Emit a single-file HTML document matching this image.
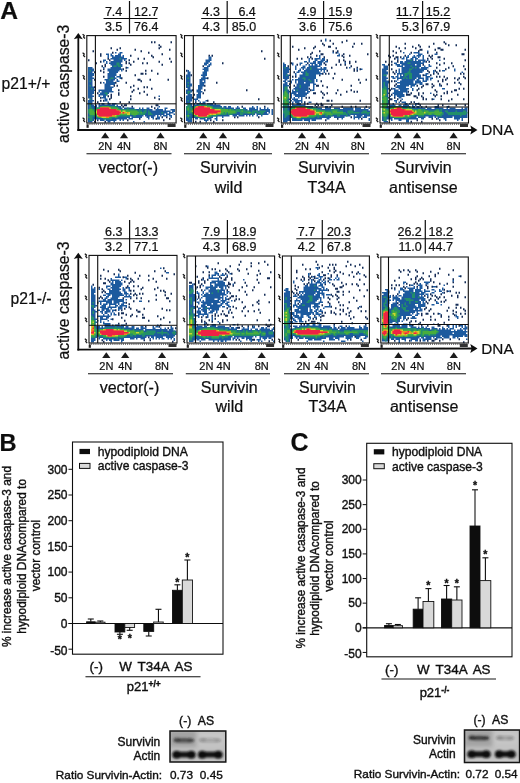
<!DOCTYPE html>
<html><head><meta charset="utf-8"><title>Figure</title>
<style>
html,body{margin:0;padding:0;background:#fff;}
svg{display:block;}
text{font-family:"Liberation Sans",Arial,sans-serif;fill:#111;}
.b{font-weight:bold;}
.h text{stroke:#111;stroke-width:0.38px;}
.l text{stroke:#111;stroke-width:0.22px;}
</style></head><body>
<svg width="520" height="783" viewBox="0 0 520 783">
<defs>
<filter id="soft" x="-5%" y="-5%" width="110%" height="110%"><feGaussianBlur stdDeviation="0.45"/></filter>
<filter id="txt" x="-5%" y="-5%" width="110%" height="110%"><feGaussianBlur stdDeviation="0.3"/></filter>
<filter id="blot" x="-20%" y="-50%" width="140%" height="200%"><feGaussianBlur stdDeviation="1.0"/></filter>
<filter id="blot2" x="-20%" y="-50%" width="140%" height="200%"><feGaussianBlur stdDeviation="2.2"/></filter>
</defs>
<rect x="0" y="0" width="520" height="783" fill="#ffffff"/>

<g filter="url(#txt)" class="l">
<text x="0.2" y="19.2" font-size="24.6" text-anchor="start" class="b">A</text>
<text x="-0.6" y="450.5" font-size="23.6" text-anchor="start" class="b">B</text>
<text x="290.4" y="451.2" font-size="25" text-anchor="start" class="b">C</text>
<text x="1.5" y="88.9" font-size="15.7" text-anchor="start">p21+/+</text>
<text transform="translate(68.8,83.8) rotate(-90)" font-size="15.75" text-anchor="middle">active caspase-3</text>
<line x1="78.3" y1="37.3" x2="78.3" y2="130.9" stroke="#111" stroke-width="1.8"/>
<polygon points="78.3,33.0 73.8,39.3 78.3,38.099999999999994 82.8,39.3" fill="#111"/>
<line x1="77.4" y1="130" x2="472" y2="130.0" stroke="#111" stroke-width="1.8"/>
<polygon points="477.5,130.0 470.3,125.6 471.6,130.0 470.3,134.4" fill="#111"/>
<text x="481.3" y="135.1" font-size="15.3" text-anchor="start" stroke="#111" stroke-width="0.35">DNA</text>
<text x="122.3" y="15.8" font-size="12.5" text-anchor="end">7.4</text>
<text x="134.1" y="15.8" font-size="12.5" text-anchor="start">12.7</text>
<text x="122.3" y="31.3" font-size="12.5" text-anchor="end">3.5</text>
<text x="134.1" y="31.3" font-size="12.5" text-anchor="start">76.4</text>
<line x1="129.5" y1="1" x2="129.5" y2="33.5" stroke="#111" stroke-width="1.2"/>
<line x1="103.5" y1="18.5" x2="157.5" y2="18.5" stroke="#111" stroke-width="1.1"/>
<polygon points="105.2,132.4 101.10000000000001,138.20000000000002 109.3,138.20000000000002" fill="#1a1a1a"/>
<text x="105.2" y="149.6" font-size="11" text-anchor="middle" stroke="#111" stroke-width="0.3">2N</text>
<polygon points="124,132.4 119.9,138.20000000000002 128.1,138.20000000000002" fill="#1a1a1a"/>
<text x="124" y="149.6" font-size="11" text-anchor="middle" stroke="#111" stroke-width="0.3">4N</text>
<polygon points="160.5,132.4 156.4,138.20000000000002 164.6,138.20000000000002" fill="#1a1a1a"/>
<text x="160.5" y="149.6" font-size="11" text-anchor="middle" stroke="#111" stroke-width="0.3">8N</text>
<text x="128.2" y="172.8" font-size="16" text-anchor="middle">vector(-)</text>
<line x1="86.5" y1="153.7" x2="171.5" y2="153.7" stroke="#111" stroke-width="1.1"/>
<text x="220.0" y="15.8" font-size="12.5" text-anchor="end">4.3</text>
<text x="255.79999999999998" y="15.8" font-size="12.5" text-anchor="end">6.4</text>
<text x="220.0" y="31.3" font-size="12.5" text-anchor="end">4.3</text>
<text x="231.79999999999998" y="31.3" font-size="12.5" text-anchor="start">85.0</text>
<line x1="227.2" y1="1" x2="227.2" y2="33.5" stroke="#111" stroke-width="1.2"/>
<line x1="201.2" y1="18.5" x2="255.2" y2="18.5" stroke="#111" stroke-width="1.1"/>
<polygon points="203.3,132.4 199.20000000000002,138.20000000000002 207.4,138.20000000000002" fill="#1a1a1a"/>
<text x="203.3" y="149.6" font-size="11" text-anchor="middle" stroke="#111" stroke-width="0.3">2N</text>
<polygon points="223,132.4 218.9,138.20000000000002 227.1,138.20000000000002" fill="#1a1a1a"/>
<text x="223" y="149.6" font-size="11" text-anchor="middle" stroke="#111" stroke-width="0.3">4N</text>
<polygon points="259,132.4 254.9,138.20000000000002 263.1,138.20000000000002" fill="#1a1a1a"/>
<text x="259" y="149.6" font-size="11" text-anchor="middle" stroke="#111" stroke-width="0.3">8N</text>
<text x="228.5" y="172.8" font-size="16" text-anchor="middle">Survivin</text>
<text x="228.5" y="192.5" font-size="16" text-anchor="middle">wild</text>
<line x1="184" y1="153.7" x2="272" y2="153.7" stroke="#111" stroke-width="1.1"/>
<text x="316.40000000000003" y="15.8" font-size="12.5" text-anchor="end">4.9</text>
<text x="328.20000000000005" y="15.8" font-size="12.5" text-anchor="start">15.9</text>
<text x="316.40000000000003" y="31.3" font-size="12.5" text-anchor="end">3.6</text>
<text x="328.20000000000005" y="31.3" font-size="12.5" text-anchor="start">75.6</text>
<line x1="323.6" y1="1" x2="323.6" y2="33.5" stroke="#111" stroke-width="1.2"/>
<line x1="297.6" y1="18.5" x2="351.6" y2="18.5" stroke="#111" stroke-width="1.1"/>
<polygon points="302,132.4 297.9,138.20000000000002 306.1,138.20000000000002" fill="#1a1a1a"/>
<text x="302" y="149.6" font-size="11" text-anchor="middle" stroke="#111" stroke-width="0.3">2N</text>
<polygon points="322.3,132.4 318.2,138.20000000000002 326.40000000000003,138.20000000000002" fill="#1a1a1a"/>
<text x="322.3" y="149.6" font-size="11" text-anchor="middle" stroke="#111" stroke-width="0.3">4N</text>
<polygon points="357.8,132.4 353.7,138.20000000000002 361.90000000000003,138.20000000000002" fill="#1a1a1a"/>
<text x="357.8" y="149.6" font-size="11" text-anchor="middle" stroke="#111" stroke-width="0.3">8N</text>
<text x="326.5" y="172.8" font-size="16" text-anchor="middle">Survivin</text>
<text x="326.5" y="192.5" font-size="16" text-anchor="middle">T34A</text>
<line x1="284" y1="153.7" x2="369" y2="153.7" stroke="#111" stroke-width="1.1"/>
<text x="419.1" y="15.8" font-size="12.5" text-anchor="end">11.7</text>
<text x="425.8" y="15.8" font-size="12.5" text-anchor="start">15.2</text>
<text x="419.1" y="31.3" font-size="12.5" text-anchor="end">5.3</text>
<text x="425.8" y="31.3" font-size="12.5" text-anchor="start">67.9</text>
<line x1="422.6" y1="1" x2="422.6" y2="33.5" stroke="#111" stroke-width="1.2"/>
<line x1="396.6" y1="18.5" x2="450.6" y2="18.5" stroke="#111" stroke-width="1.1"/>
<polygon points="397.8,132.4 393.7,138.20000000000002 401.90000000000003,138.20000000000002" fill="#1a1a1a"/>
<text x="397.8" y="149.6" font-size="11" text-anchor="middle" stroke="#111" stroke-width="0.3">2N</text>
<polygon points="417,132.4 412.9,138.20000000000002 421.1,138.20000000000002" fill="#1a1a1a"/>
<text x="417" y="149.6" font-size="11" text-anchor="middle" stroke="#111" stroke-width="0.3">4N</text>
<polygon points="453.6,132.4 449.5,138.20000000000002 457.70000000000005,138.20000000000002" fill="#1a1a1a"/>
<text x="453.6" y="149.6" font-size="11" text-anchor="middle" stroke="#111" stroke-width="0.3">8N</text>
<text x="423.3" y="172.8" font-size="16" text-anchor="middle">Survivin</text>
<text x="423.3" y="192.5" font-size="16" text-anchor="middle">antisense</text>
<line x1="381" y1="153.7" x2="466" y2="153.7" stroke="#111" stroke-width="1.1"/>
<text x="10.5" y="304.3" font-size="15.7" text-anchor="start">p21-/-</text>
<text transform="translate(68.8,300.5) rotate(-90)" font-size="15.75" text-anchor="middle">active caspase-3</text>
<line x1="78.3" y1="257.0" x2="78.3" y2="350.5" stroke="#111" stroke-width="1.8"/>
<polygon points="78.3,252.7 73.8,259.0 78.3,257.8 82.8,259.0" fill="#111"/>
<line x1="77.4" y1="349.6" x2="472" y2="348.5" stroke="#111" stroke-width="1.8"/>
<polygon points="477.5,348.5 470.3,344.1 471.6,348.5 470.3,352.9" fill="#111"/>
<text x="481.3" y="353.6" font-size="15.3" text-anchor="start" stroke="#111" stroke-width="0.35">DNA</text>
<text x="122.39999999999999" y="235.6" font-size="12.5" text-anchor="end">6.3</text>
<text x="134.2" y="235.6" font-size="12.5" text-anchor="start">13.3</text>
<text x="122.39999999999999" y="250.6" font-size="12.5" text-anchor="end">3.2</text>
<text x="134.2" y="250.6" font-size="12.5" text-anchor="start">77.1</text>
<line x1="129.6" y1="220" x2="129.6" y2="253.8" stroke="#111" stroke-width="1.2"/>
<line x1="103.6" y1="238.8" x2="157.6" y2="238.8" stroke="#111" stroke-width="1.1"/>
<polygon points="106.3,352.3 102.2,358.1 110.39999999999999,358.1" fill="#1a1a1a"/>
<text x="106.3" y="369.6" font-size="11" text-anchor="middle" stroke="#111" stroke-width="0.3">2N</text>
<polygon points="125.2,352.3 121.10000000000001,358.1 129.3,358.1" fill="#1a1a1a"/>
<text x="125.2" y="369.6" font-size="11" text-anchor="middle" stroke="#111" stroke-width="0.3">4N</text>
<polygon points="162,352.3 157.9,358.1 166.1,358.1" fill="#1a1a1a"/>
<text x="162" y="369.6" font-size="11" text-anchor="middle" stroke="#111" stroke-width="0.3">8N</text>
<text x="129.5" y="392.7" font-size="16" text-anchor="middle">vector(-)</text>
<line x1="88" y1="373.70000000000005" x2="173" y2="373.70000000000005" stroke="#111" stroke-width="1.1"/>
<text x="220.20000000000002" y="235.6" font-size="12.5" text-anchor="end">7.9</text>
<text x="232.0" y="235.6" font-size="12.5" text-anchor="start">18.9</text>
<text x="220.20000000000002" y="250.6" font-size="12.5" text-anchor="end">4.3</text>
<text x="232.0" y="250.6" font-size="12.5" text-anchor="start">68.9</text>
<line x1="227.4" y1="220" x2="227.4" y2="253.8" stroke="#111" stroke-width="1.2"/>
<line x1="201.4" y1="238.8" x2="255.4" y2="238.8" stroke="#111" stroke-width="1.1"/>
<polygon points="206.4,352.3 202.3,358.1 210.5,358.1" fill="#1a1a1a"/>
<text x="206.4" y="369.6" font-size="11" text-anchor="middle" stroke="#111" stroke-width="0.3">2N</text>
<polygon points="223.6,352.3 219.5,358.1 227.7,358.1" fill="#1a1a1a"/>
<text x="223.6" y="369.6" font-size="11" text-anchor="middle" stroke="#111" stroke-width="0.3">4N</text>
<polygon points="261.7,352.3 257.59999999999997,358.1 265.8,358.1" fill="#1a1a1a"/>
<text x="261.7" y="369.6" font-size="11" text-anchor="middle" stroke="#111" stroke-width="0.3">8N</text>
<text x="229.3" y="392.7" font-size="16" text-anchor="middle">Survivin</text>
<text x="229.3" y="411.8" font-size="16" text-anchor="middle">wild</text>
<line x1="185.8" y1="373.70000000000005" x2="270" y2="373.70000000000005" stroke="#111" stroke-width="1.1"/>
<text x="315.1" y="235.6" font-size="12.5" text-anchor="end">7.7</text>
<text x="326.90000000000003" y="235.6" font-size="12.5" text-anchor="start">20.3</text>
<text x="315.1" y="250.6" font-size="12.5" text-anchor="end">4.2</text>
<text x="326.90000000000003" y="250.6" font-size="12.5" text-anchor="start">67.8</text>
<line x1="322.3" y1="220" x2="322.3" y2="253.8" stroke="#111" stroke-width="1.2"/>
<line x1="296.3" y1="238.8" x2="350.3" y2="238.8" stroke="#111" stroke-width="1.1"/>
<polygon points="303.5,352.3 299.4,358.1 307.6,358.1" fill="#1a1a1a"/>
<text x="303.5" y="369.6" font-size="11" text-anchor="middle" stroke="#111" stroke-width="0.3">2N</text>
<polygon points="321.5,352.3 317.4,358.1 325.6,358.1" fill="#1a1a1a"/>
<text x="321.5" y="369.6" font-size="11" text-anchor="middle" stroke="#111" stroke-width="0.3">4N</text>
<polygon points="359,352.3 354.9,358.1 363.1,358.1" fill="#1a1a1a"/>
<text x="359" y="369.6" font-size="11" text-anchor="middle" stroke="#111" stroke-width="0.3">8N</text>
<text x="327.5" y="392.7" font-size="16" text-anchor="middle">Survivin</text>
<text x="327.5" y="411.8" font-size="16" text-anchor="middle">T34A</text>
<line x1="284" y1="373.70000000000005" x2="369" y2="373.70000000000005" stroke="#111" stroke-width="1.1"/>
<text x="421.8" y="235.6" font-size="12.5" text-anchor="end">26.2</text>
<text x="428.5" y="235.6" font-size="12.5" text-anchor="start">18.2</text>
<text x="421.8" y="250.6" font-size="12.5" text-anchor="end">11.0</text>
<text x="428.5" y="250.6" font-size="12.5" text-anchor="start">44.7</text>
<line x1="425.3" y1="220" x2="425.3" y2="253.8" stroke="#111" stroke-width="1.2"/>
<line x1="399.3" y1="238.8" x2="453.3" y2="238.8" stroke="#111" stroke-width="1.1"/>
<polygon points="398.4,352.3 394.29999999999995,358.1 402.5,358.1" fill="#1a1a1a"/>
<text x="398.4" y="369.6" font-size="11" text-anchor="middle" stroke="#111" stroke-width="0.3">2N</text>
<polygon points="417.4,352.3 413.29999999999995,358.1 421.5,358.1" fill="#1a1a1a"/>
<text x="417.4" y="369.6" font-size="11" text-anchor="middle" stroke="#111" stroke-width="0.3">4N</text>
<polygon points="453.8,352.3 449.7,358.1 457.90000000000003,358.1" fill="#1a1a1a"/>
<text x="453.8" y="369.6" font-size="11" text-anchor="middle" stroke="#111" stroke-width="0.3">8N</text>
<text x="424.2" y="392.7" font-size="16" text-anchor="middle">Survivin</text>
<text x="424.2" y="411.8" font-size="16" text-anchor="middle">antisense</text>
<line x1="381" y1="373.70000000000005" x2="466" y2="373.70000000000005" stroke="#111" stroke-width="1.1"/>
</g><g filter="url(#txt)" class="h">
<rect x="72.5" y="442" width="150.5" height="212.20000000000005" fill="none" stroke="#111" stroke-width="1.1"/>
<line x1="68.5" y1="469.29999999999995" x2="72.5" y2="469.29999999999995" stroke="#111" stroke-width="1.0"/>
<text x="67.5" y="473.49999999999994" font-size="12" text-anchor="end">300</text>
<line x1="68.5" y1="495.0" x2="72.5" y2="495.0" stroke="#111" stroke-width="1.0"/>
<text x="67.5" y="499.2" font-size="12" text-anchor="end">250</text>
<line x1="68.5" y1="520.7" x2="72.5" y2="520.7" stroke="#111" stroke-width="1.0"/>
<text x="67.5" y="524.9000000000001" font-size="12" text-anchor="end">200</text>
<line x1="68.5" y1="546.4" x2="72.5" y2="546.4" stroke="#111" stroke-width="1.0"/>
<text x="67.5" y="550.6" font-size="12" text-anchor="end">150</text>
<line x1="68.5" y1="572.1" x2="72.5" y2="572.1" stroke="#111" stroke-width="1.0"/>
<text x="67.5" y="576.3000000000001" font-size="12" text-anchor="end">100</text>
<line x1="68.5" y1="597.8" x2="72.5" y2="597.8" stroke="#111" stroke-width="1.0"/>
<text x="67.5" y="602.0" font-size="12" text-anchor="end">50</text>
<line x1="68.5" y1="623.5" x2="72.5" y2="623.5" stroke="#111" stroke-width="1.0"/>
<text x="67.5" y="627.7" font-size="12" text-anchor="end">0</text>
<line x1="68.5" y1="649.2" x2="72.5" y2="649.2" stroke="#111" stroke-width="1.0"/>
<text x="67.5" y="655.0000000000001" font-size="12" text-anchor="end">-50</text>
<line x1="68.5" y1="623.5" x2="223" y2="623.5" stroke="#111" stroke-width="1.2"/>
<rect x="86.6" y="621.8" width="8.400000000000006" height="1.7000000000000455" fill="#0b0b0b" stroke="#111" stroke-width="0.9"/>
<line x1="90.8" y1="621.8" x2="90.8" y2="619" stroke="#111" stroke-width="1.1"/>
<line x1="87.8" y1="619" x2="93.8" y2="619" stroke="#111" stroke-width="1.1"/>
<rect x="95.6" y="622.2" width="9.400000000000006" height="1.2999999999999545" fill="#d9d9d9" stroke="#111" stroke-width="0.9"/>
<line x1="100.3" y1="622.2" x2="100.3" y2="621" stroke="#111" stroke-width="1.1"/>
<line x1="97.3" y1="621" x2="103.3" y2="621" stroke="#111" stroke-width="1.1"/>
<rect x="115" y="623.5" width="9.799999999999997" height="8.5" fill="#0b0b0b" stroke="#111" stroke-width="0.9"/>
<line x1="119.9" y1="632" x2="119.9" y2="634.3" stroke="#111" stroke-width="1.1"/>
<line x1="116.9" y1="634.3" x2="122.9" y2="634.3" stroke="#111" stroke-width="1.1"/>
<text x="119.9" y="643.4" font-size="10.5" text-anchor="middle" class="b">*</text>
<rect x="124.8" y="623.5" width="9.799999999999997" height="4.0" fill="#d9d9d9" stroke="#111" stroke-width="0.9"/>
<line x1="129.7" y1="627.5" x2="129.7" y2="630.3" stroke="#111" stroke-width="1.1"/>
<line x1="126.69999999999999" y1="630.3" x2="132.7" y2="630.3" stroke="#111" stroke-width="1.1"/>
<text x="129.7" y="641.5" font-size="10.5" text-anchor="middle" class="b">*</text>
<rect x="143.8" y="623.5" width="9.899999999999977" height="7.899999999999977" fill="#0b0b0b" stroke="#111" stroke-width="0.9"/>
<line x1="148.75" y1="631.4" x2="148.75" y2="636" stroke="#111" stroke-width="1.1"/>
<line x1="145.75" y1="636" x2="151.75" y2="636" stroke="#111" stroke-width="1.1"/>
<rect x="153.7" y="622" width="9.5" height="1.5" fill="#d9d9d9" stroke="#111" stroke-width="0.9"/>
<line x1="158.45" y1="622" x2="158.45" y2="609.3" stroke="#111" stroke-width="1.1"/>
<line x1="155.45" y1="609.3" x2="161.45" y2="609.3" stroke="#111" stroke-width="1.1"/>
<rect x="172.5" y="590.3" width="9.800000000000011" height="33.200000000000045" fill="#0b0b0b" stroke="#111" stroke-width="0.9"/>
<line x1="177.4" y1="590.3" x2="177.4" y2="584.8" stroke="#111" stroke-width="1.1"/>
<line x1="174.4" y1="584.8" x2="180.4" y2="584.8" stroke="#111" stroke-width="1.1"/>
<text x="177.4" y="586.0" font-size="10.5" text-anchor="middle" class="b">*</text>
<rect x="182.3" y="580" width="10.199999999999989" height="43.5" fill="#d9d9d9" stroke="#111" stroke-width="0.9"/>
<line x1="187.4" y1="580" x2="187.4" y2="560" stroke="#111" stroke-width="1.1"/>
<line x1="184.4" y1="560" x2="190.4" y2="560" stroke="#111" stroke-width="1.1"/>
<text x="187.4" y="560.6999999999999" font-size="10.5" text-anchor="middle" class="b">*</text>
<text x="96.3" y="670.8" font-size="13.4" text-anchor="middle">(-)</text>
<text x="125.6" y="670.8" font-size="13.4" text-anchor="middle">W</text>
<text x="153.6" y="670.8" font-size="13.4" text-anchor="middle">T34A</text>
<text x="183.5" y="670.8" font-size="13.4" text-anchor="middle">AS</text>
<line x1="85.5" y1="676.8" x2="200.5" y2="676.8" stroke="#111" stroke-width="1.1"/>
<text x="143.8" y="690.5" font-size="13" text-anchor="middle">p21<tspan font-size="8.5" dy="-4" font-weight="bold">+/+</tspan></text>
<text transform="translate(10.5,556.5) rotate(-90)" font-size="11.9" text-anchor="middle">% increase active casapase-3 and</text>
<text transform="translate(26.0,556.3) rotate(-90)" font-size="11.9" text-anchor="middle">hypodiploid DNAcompared to</text>
<text transform="translate(40.3,555.5) rotate(-90)" font-size="11.9" text-anchor="middle">vector control</text>
<rect x="79.5" y="448.9" width="10.5" height="5.2" fill="#0b0b0b"/>
<rect x="79.5" y="463.4" width="10.5" height="5" fill="#d9d9d9" stroke="#111" stroke-width="1"/>
<text x="97.8" y="455.59999999999997" font-size="12.1" text-anchor="start">hypodiploid DNA</text>
<text x="97.8" y="470.29999999999995" font-size="12.1" text-anchor="start">active caspase-3</text>
<rect x="366.7" y="443.3" width="145.3" height="213.49999999999994" fill="none" stroke="#111" stroke-width="1.1"/>
<line x1="362.7" y1="480.0" x2="366.7" y2="480.0" stroke="#111" stroke-width="1.0"/>
<text x="361.7" y="484.2" font-size="12" text-anchor="end">300</text>
<line x1="362.7" y1="504.6333333333333" x2="366.7" y2="504.6333333333333" stroke="#111" stroke-width="1.0"/>
<text x="361.7" y="508.8333333333333" font-size="12" text-anchor="end">250</text>
<line x1="362.7" y1="529.2666666666667" x2="366.7" y2="529.2666666666667" stroke="#111" stroke-width="1.0"/>
<text x="361.7" y="533.4666666666667" font-size="12" text-anchor="end">200</text>
<line x1="362.7" y1="553.9" x2="366.7" y2="553.9" stroke="#111" stroke-width="1.0"/>
<text x="361.7" y="558.1" font-size="12" text-anchor="end">150</text>
<line x1="362.7" y1="578.5333333333333" x2="366.7" y2="578.5333333333333" stroke="#111" stroke-width="1.0"/>
<text x="361.7" y="582.7333333333333" font-size="12" text-anchor="end">100</text>
<line x1="362.7" y1="603.1666666666666" x2="366.7" y2="603.1666666666666" stroke="#111" stroke-width="1.0"/>
<text x="361.7" y="607.3666666666667" font-size="12" text-anchor="end">50</text>
<line x1="362.7" y1="627.8" x2="366.7" y2="627.8" stroke="#111" stroke-width="1.0"/>
<text x="361.7" y="632.0" font-size="12" text-anchor="end">0</text>
<line x1="362.7" y1="652.4333333333333" x2="366.7" y2="652.4333333333333" stroke="#111" stroke-width="1.0"/>
<text x="361.7" y="658.2333333333333" font-size="12" text-anchor="end">-50</text>
<line x1="362.7" y1="627.8" x2="512" y2="627.8" stroke="#111" stroke-width="1.2"/>
<rect x="384.6" y="625.5" width="8.599999999999966" height="2.2999999999999545" fill="#0b0b0b" stroke="#111" stroke-width="0.9"/>
<line x1="388.9" y1="625.5" x2="388.9" y2="623.7" stroke="#111" stroke-width="1.1"/>
<line x1="385.9" y1="623.7" x2="391.9" y2="623.7" stroke="#111" stroke-width="1.1"/>
<rect x="393.2" y="625.7" width="9.300000000000011" height="2.099999999999909" fill="#d9d9d9" stroke="#111" stroke-width="0.9"/>
<line x1="397.85" y1="625.7" x2="397.85" y2="624.5" stroke="#111" stroke-width="1.1"/>
<line x1="394.85" y1="624.5" x2="400.85" y2="624.5" stroke="#111" stroke-width="1.1"/>
<rect x="413.2" y="609.2" width="9.800000000000011" height="18.59999999999991" fill="#0b0b0b" stroke="#111" stroke-width="0.9"/>
<line x1="418.1" y1="609.2" x2="418.1" y2="597.8" stroke="#111" stroke-width="1.1"/>
<line x1="415.1" y1="597.8" x2="421.1" y2="597.8" stroke="#111" stroke-width="1.1"/>
<rect x="423" y="601.5" width="10.800000000000011" height="26.299999999999955" fill="#d9d9d9" stroke="#111" stroke-width="0.9"/>
<line x1="428.4" y1="601.5" x2="428.4" y2="588.6" stroke="#111" stroke-width="1.1"/>
<line x1="425.4" y1="588.6" x2="431.4" y2="588.6" stroke="#111" stroke-width="1.1"/>
<text x="428.4" y="588.5" font-size="10.5" text-anchor="middle" class="b">*</text>
<rect x="441.5" y="599" width="10.199999999999989" height="28.799999999999955" fill="#0b0b0b" stroke="#111" stroke-width="0.9"/>
<line x1="446.6" y1="599" x2="446.6" y2="585.5" stroke="#111" stroke-width="1.1"/>
<line x1="443.6" y1="585.5" x2="449.6" y2="585.5" stroke="#111" stroke-width="1.1"/>
<text x="446.6" y="586.6999999999999" font-size="10.5" text-anchor="middle" class="b">*</text>
<rect x="451.7" y="600" width="10.300000000000011" height="27.799999999999955" fill="#d9d9d9" stroke="#111" stroke-width="0.9"/>
<line x1="456.85" y1="600" x2="456.85" y2="586.8" stroke="#111" stroke-width="1.1"/>
<line x1="453.85" y1="586.8" x2="459.85" y2="586.8" stroke="#111" stroke-width="1.1"/>
<text x="456.85" y="586.6999999999999" font-size="10.5" text-anchor="middle" class="b">*</text>
<rect x="470" y="526" width="10" height="101.79999999999995" fill="#0b0b0b" stroke="#111" stroke-width="0.9"/>
<line x1="475.0" y1="526" x2="475.0" y2="489.8" stroke="#111" stroke-width="1.1"/>
<line x1="472.0" y1="489.8" x2="478.0" y2="489.8" stroke="#111" stroke-width="1.1"/>
<text x="475.0" y="489.09999999999997" font-size="10.5" text-anchor="middle" class="b">*</text>
<rect x="480" y="580.6" width="10.800000000000011" height="47.19999999999993" fill="#d9d9d9" stroke="#111" stroke-width="0.9"/>
<line x1="485.4" y1="580.6" x2="485.4" y2="557.8" stroke="#111" stroke-width="1.1"/>
<line x1="482.4" y1="557.8" x2="488.4" y2="557.8" stroke="#111" stroke-width="1.1"/>
<text x="485.4" y="557.9" font-size="10.5" text-anchor="middle" class="b">*</text>
<text x="391.7" y="673.8" font-size="13.4" text-anchor="middle">(-)</text>
<text x="423.2" y="673.8" font-size="13.4" text-anchor="middle">W</text>
<text x="451.6" y="673.8" font-size="13.4" text-anchor="middle">T34A</text>
<text x="481.6" y="673.8" font-size="13.4" text-anchor="middle">AS</text>
<line x1="381.5" y1="679" x2="496" y2="679" stroke="#111" stroke-width="1.1"/>
<text x="434.5" y="696.5" font-size="13" text-anchor="middle">p21<tspan font-size="8.5" dy="-4" font-weight="bold">-/-</tspan></text>
<text transform="translate(304.5,558) rotate(-90)" font-size="11.9" text-anchor="middle">% increase active casapase-3 and</text>
<text transform="translate(318.5,558.5) rotate(-90)" font-size="11.9" text-anchor="middle">hypodiploid DNAcompared to</text>
<text transform="translate(333,556) rotate(-90)" font-size="11.9" text-anchor="middle">vector control</text>
<rect x="373.8" y="449.2" width="10.5" height="5.2" fill="#0b0b0b"/>
<rect x="373.8" y="463.7" width="10.5" height="5" fill="#d9d9d9" stroke="#111" stroke-width="1"/>
<text x="392.1" y="455.9" font-size="12.1" text-anchor="start">hypodiploid DNA</text>
<text x="392.1" y="470.59999999999997" font-size="12.1" text-anchor="start">active caspase-3</text>
</g>
<clipPath id="cp170"><rect x="170" y="731" width="55.80000000000001" height="31"/></clipPath>
<rect x="170" y="731" width="55.80000000000001" height="31" fill="#b9b9b9"/>
<g clip-path="url(#cp170)">
<g filter="url(#blot2)">
<rect x="170" y="731" width="26.75" height="16.12" fill="#a2a2a2"/>
<rect x="196.75" y="731" width="29.05000000000001" height="15.5" fill="#c6c6c6"/>
<rect x="170" y="759.2" width="55.80000000000001" height="2.7999999999999545" fill="#cfcfcf"/>
<rect x="170" y="747.7" width="55.80000000000001" height="4" fill="#c4c4c4"/>
</g>
<g filter="url(#blot)">
<ellipse cx="184.0" cy="740.3" rx="10.5" ry="2.3" fill="#1e1e1e" opacity="0.62"/>
<ellipse cx="177.0" cy="740.0" rx="3.4" ry="2.4" fill="#1e1e1e" opacity="0.434"/>
<ellipse cx="190.5" cy="740.5" rx="3" ry="2.2" fill="#1e1e1e" opacity="0.31"/>
<rect x="172.5" y="751.8000000000001" width="23.0" height="5.8" rx="2.9" fill="#121212" opacity="0.96"/>
<ellipse cx="176.7" cy="754.7" rx="4.2" ry="3.9" fill="#0c0c0c"/>
<ellipse cx="191.3" cy="754.7" rx="4.2" ry="3.9" fill="#0c0c0c"/>
<ellipse cx="210.25" cy="740.3" rx="11.25" ry="2.3" fill="#1e1e1e" opacity="0.2"/>
<ellipse cx="202.5" cy="740.0" rx="3.4" ry="2.4" fill="#1e1e1e" opacity="0.13999999999999999"/>
<ellipse cx="217.5" cy="740.5" rx="3" ry="2.2" fill="#1e1e1e" opacity="0.1"/>
<rect x="198" y="751.8000000000001" width="24.5" height="5.8" rx="2.9" fill="#121212" opacity="0.96"/>
<ellipse cx="202.2" cy="754.7" rx="4.2" ry="3.9" fill="#0c0c0c"/>
<ellipse cx="218.3" cy="754.7" rx="4.2" ry="3.9" fill="#0c0c0c"/>
</g></g>
<rect x="170" y="731" width="55.80000000000001" height="31" fill="none" stroke="#141414" stroke-width="1.5" filter="url(#txt)"/>
<g filter="url(#txt)" class="h">
<text x="185.2" y="725.3" font-size="12.2" text-anchor="middle">(-)</text>
<text x="205.9" y="725.3" font-size="12.2" text-anchor="middle">AS</text>
<text x="160.3" y="746.2" font-size="12" text-anchor="end">Survivin</text>
<text x="160.3" y="760.4" font-size="12" text-anchor="end">Actin</text>
<text x="55.8" y="779" font-size="11.8" text-anchor="start">Ratio Survivin-Actin:</text>
<text x="170" y="779" font-size="11.8" text-anchor="start">0.73</text>
<text x="199.8" y="779" font-size="11.8" text-anchor="start">0.45</text>
</g>
<clipPath id="cp464"><rect x="464.5" y="730" width="55.10000000000002" height="32.5"/></clipPath>
<rect x="464.5" y="730" width="55.10000000000002" height="32.5" fill="#b9b9b9"/>
<g clip-path="url(#cp464)">
<g filter="url(#blot2)">
<rect x="464.5" y="730" width="28.25" height="16.900000000000002" fill="#a2a2a2"/>
<rect x="492.75" y="730" width="26.850000000000023" height="16.25" fill="#c6c6c6"/>
<rect x="464.5" y="758.7" width="55.10000000000002" height="3.7999999999999545" fill="#cfcfcf"/>
<rect x="464.5" y="747.2" width="55.10000000000002" height="4" fill="#c4c4c4"/>
</g>
<g filter="url(#blot)">
<ellipse cx="479.0" cy="738" rx="10.5" ry="2.3" fill="#1e1e1e" opacity="0.72"/>
<ellipse cx="472.0" cy="737.7" rx="3.4" ry="2.4" fill="#1e1e1e" opacity="0.504"/>
<ellipse cx="485.5" cy="738.2" rx="3" ry="2.2" fill="#1e1e1e" opacity="0.36"/>
<rect x="467.5" y="751.3000000000001" width="23.0" height="5.8" rx="2.9" fill="#121212" opacity="0.96"/>
<ellipse cx="471.7" cy="754.2" rx="4.2" ry="3.9" fill="#0c0c0c"/>
<ellipse cx="486.3" cy="754.2" rx="4.2" ry="3.9" fill="#0c0c0c"/>
<ellipse cx="505.25" cy="738" rx="9.25" ry="2.3" fill="#1e1e1e" opacity="0.22"/>
<ellipse cx="499.5" cy="737.7" rx="3.4" ry="2.4" fill="#1e1e1e" opacity="0.154"/>
<ellipse cx="510.5" cy="738.2" rx="3" ry="2.2" fill="#1e1e1e" opacity="0.11"/>
<rect x="495" y="751.3000000000001" width="20.5" height="5.8" rx="2.9" fill="#121212" opacity="0.96"/>
<ellipse cx="499.2" cy="754.2" rx="4.2" ry="3.9" fill="#0c0c0c"/>
<ellipse cx="511.3" cy="754.2" rx="4.2" ry="3.9" fill="#0c0c0c"/>
</g></g>
<rect x="464.5" y="730" width="55.10000000000002" height="32.5" fill="none" stroke="#141414" stroke-width="1.5" filter="url(#txt)"/>
<g filter="url(#txt)" class="h">
<text x="479.6" y="724.2" font-size="12.2" text-anchor="middle">(-)</text>
<text x="500.2" y="724.2" font-size="12.2" text-anchor="middle">AS</text>
<text x="455.6" y="744" font-size="12" text-anchor="end">Survivin</text>
<text x="455.6" y="758" font-size="12" text-anchor="end">Actin</text>
<text x="353.8" y="777.6" font-size="11.8" text-anchor="start">Ratio Survivin-Actin:</text>
<text x="465.5" y="777.6" font-size="11.8" text-anchor="start">0.72</text>
<text x="494.7" y="777.6" font-size="11.8" text-anchor="start">0.54</text>
</g>
<g filter="url(#soft)"><path d="M151 42.25h1.5M154 42.25h1.5M170.5 42.25h1.5M158.5 45.25h1.5M160 46.75h1.5M110.5 48.25h1.5M119.5 48.25h1.5M158.5 48.25h1.5M116.5 49.75h1.5M134.5 49.75h1.5M169 49.75h1.5M92.5 51.25h1.5M140.5 51.25h1.5M112 52.75h1.5M148 52.75h1.5M100 54.25h1.5M161.5 54.25h1.5M100 55.75h1.5M130 55.75h1.5M151 55.75h1.5M152.5 57.25h1.5M107.5 58.75h1.5M137.5 58.75h1.5M143.5 58.75h1.5M169 58.75h1.5M88 60.25h1.5M109 60.25h1.5M128.5 60.25h1.5M100 61.75h1.5M125.5 61.75h1.5M133 61.75h1.5M158.5 61.75h1.5M170.5 61.75h1.5M95.5 63.25h1.5M125.5 63.25h1.5M128.5 63.25h1.5M142 63.25h1.5M146.5 63.25h1.5M104.5 64.75h1.5M130 64.75h1.5M161.5 64.75h1.5M101.5 66.25h1.5M104.5 66.25h1.5M125.5 67.75h1.5M103 69.25h1.5M122.5 69.25h1.5M100 70.75h1.5M125.5 70.75h1.5M145 70.75h1.5M151 70.75h1.5M94 72.25h1.5M103 72.25h1.5M140.5 73.75h3M145 73.75h1.5M157 73.75h1.5M119.5 75.25h1.5M134.5 75.25h1.5M103 76.75h1.5M121 78.25h1.5M94 79.75h1.5M137.5 79.75h3M149.5 79.75h1.5M167.5 79.75h1.5M140.5 81.25h1.5M100 82.75h1.5M115 82.75h1.5M125.5 82.75h1.5M113.5 85.75h1.5M116.5 85.75h1.5M133 85.75h1.5M94 87.25h1.5M130 87.25h1.5M143.5 87.25h1.5M146.5 87.25h1.5M137.5 88.75h1.5M151 88.75h1.5M118 90.25h1.5M133 90.25h1.5M131.5 91.75h1.5M143.5 91.75h1.5M97 93.25h1.5M118 93.25h1.5M139 93.25h1.5M110.5 94.75h1.5M118 94.75h1.5M146.5 94.75h1.5M107.5 96.25h1.5M110.5 96.25h1.5M130 96.25h1.5M100 97.75h1.5M110.5 97.75h1.5M154 97.75h1.5M109 99.25h1.5M130 99.25h1.5M158.5 99.25h1.5M100 100.75h1.5M103 100.75h1.5M97 102.25h1.5M119.5 102.25h1.5M128.5 102.25h1.5M121 105.25h1.5M124 105.25h3M155.5 105.25h3M122.5 106.75h1.5M131.5 106.75h1.5M151 106.75h1.5M154 108.25h1.5M161.5 117.25h1.5M166 117.25h1.5M139 118.75h1.5M155.5 118.75h1.5M169 118.75h1.5M97 120.25h1.5M127 120.25h1.5M163 120.25h1.5M94 121.75h1.5M104.5 121.75h1.5" stroke="#122b55" stroke-width="1.85" fill="none"/>
<path d="M115 52.75h1.5M119.5 52.75h3M106 54.25h3M110.5 54.25h1.5M118 54.25h3M107.5 55.75h1.5M110.5 55.75h3M115 55.75h6M122.5 55.75h1.5M107.5 57.25h1.5M112 57.25h12M110.5 58.75h16.5M103 60.25h3M113.5 60.25h9M124 60.25h1.5M103 61.75h1.5M106 61.75h1.5M110.5 61.75h12M106 63.25h1.5M109 63.25h12M110.5 64.75h12M112 66.25h10.5M88 67.75h4.5M103 67.75h1.5M110.5 67.75h10.5M127 67.75h1.5M88 69.25h6M107.5 69.25h15M88 70.75h6M107.5 70.75h12M121 70.75h1.5M88 72.25h4.5M109 72.25h9M88 73.75h6M107.5 73.75h9M88 75.25h6M107.5 75.25h9M88 76.75h4.5M107.5 76.75h7.5M116.5 76.75h4.5M88 78.25h6M107.5 78.25h9M119.5 78.25h1.5M88 79.75h4.5M104.5 79.75h10.5M116.5 79.75h1.5M88 81.25h4.5M106 81.25h7.5M116.5 81.25h3M88 82.75h4.5M103 82.75h1.5M106 82.75h9M88 84.25h4.5M104.5 84.25h10.5M88 85.75h4.5M104.5 85.75h6M88 87.25h6M104.5 87.25h9M88 88.75h6M104.5 88.75h7.5M88 90.25h7.5M98.5 90.25h13.5M88 91.75h6M98.5 91.75h1.5M101.5 91.75h12M88 93.25h6M100 93.25h9M88 94.75h4.5M98.5 94.75h9M88 96.25h6M98.5 96.25h1.5M103 96.25h3M158.5 96.25h1.5M88 97.75h4.5M101.5 97.75h4.5M89.5 99.25h3M104.5 99.25h3M88 100.75h6M104.5 100.75h3M88 102.25h4.5M107.5 102.25h1.5M88 103.75h4.5M98.5 103.75h1.5M101.5 103.75h3M107.5 103.75h3M112 103.75h4.5M88 105.25h6M95.5 105.25h1.5M98.5 105.25h16.5M116.5 105.25h1.5M88 106.75h9M98.5 106.75h22.5M158.5 106.75h1.5M88 108.25h34.5M124 108.25h10.5M139 108.25h1.5M142 108.25h1.5M146.5 108.25h3M157 108.25h1.5M164.5 108.25h3M88 109.75h64.5M155.5 109.75h7.5M164.5 109.75h1.5M170.5 109.75h4.5M88 111.25h82.5M172 111.25h3M88 112.75h79.5M169 112.75h4.5M88 114.25h76.5M166 114.25h4.5M173.5 114.25h1.5M88 115.75h55.5M145 115.75h10.5M157 115.75h1.5M160 115.75h1.5M163 115.75h4.5M169 115.75h3M88 117.25h42M131.5 117.25h10.5M146.5 117.25h3M151 117.25h3M157 117.25h3M170.5 117.25h1.5M88 118.75h39M128.5 118.75h4.5M148 118.75h1.5M152.5 118.75h1.5M157 118.75h3M88 120.25h6M100 120.25h4.5M106 120.25h10.5M119.5 120.25h1.5M122.5 120.25h1.5M88 121.75h4.5M107.5 121.75h3M113.5 121.75h1.5M133 121.75h1.5M143.5 121.75h1.5" stroke="#1f5a9e" stroke-width="1.56" fill="none"/>
<path d="M119.5 58.75h1.5M116.5 63.25h3M116.5 64.75h3M113.5 66.25h3M118 66.25h3M89.5 70.75h1.5M110.5 78.25h3M109 79.75h1.5M89.5 81.25h1.5M89.5 85.75h1.5M91 88.75h1.5M104.5 93.25h3M106 94.75h1.5M89.5 99.25h1.5M89.5 103.75h1.5M89.5 105.25h1.5M89.5 106.75h1.5M100 106.75h16.5M89.5 108.25h3M95.5 108.25h24M127 108.25h1.5M88 109.75h48M139 109.75h1.5M145 109.75h1.5M88 111.25h54M143.5 111.25h3M148 111.25h1.5M88 112.75h58.5M148 112.75h3M161.5 112.75h1.5M89.5 114.25h55.5M148 114.25h4.5M89.5 115.75h40.5M133 115.75h3M88 117.25h4.5M97 117.25h21M89.5 118.75h3M103 118.75h9M89.5 120.25h3" stroke="#238f6a" stroke-width="1.56" fill="none"/>
<path d="M101.5 106.75h7.5M98.5 108.25h19.5M89.5 109.75h3M95.5 109.75h24M89.5 111.25h4.5M95.5 111.25h42M89.5 112.75h49.5M140.5 112.75h1.5M89.5 114.25h40.5M131.5 114.25h6M97 115.75h22.5M98.5 117.25h12M115 117.25h1.5" stroke="#49ad3c" stroke-width="1.56" fill="none"/>
<path d="M100 108.25h10.5M97 109.75h19.5M95.5 111.25h25.5M122.5 111.25h3M95.5 112.75h34.5M97 114.25h22.5M127 114.25h3M97 115.75h19.5M101.5 117.25h7.5" stroke="#c9d62e" stroke-width="1.56" fill="none"/>
<path d="M100 108.25h10.5M97 109.75h19.5M97 111.25h24M97 112.75h24M122.5 112.75h3M127 112.75h1.5M97 114.25h22.5M98.5 115.75h16.5M106 117.25h3" stroke="#f08a1c" stroke-width="1.56" fill="none"/>
<path d="M100 108.25h9M97 109.75h19.5M97 111.25h22.5M97 112.75h24M122.5 112.75h1.5M97 114.25h22.5M98.5 115.75h13.5" stroke="#ee2244" stroke-width="1.56" fill="none"/>
<path d="M261 51.25h1.5M208.5 55.75h1.5M211.5 55.75h1.5M264 58.75h1.5M222 63.25h1.5M202.5 66.25h1.5M186 70.75h1.5M190.5 75.25h1.5M207 78.25h1.5M216 82.75h1.5M204 85.75h1.5M192 90.25h1.5M204 90.25h1.5M246 90.25h1.5M202.5 93.25h1.5M193.5 94.75h1.5M192 97.75h1.5M258 99.25h1.5M207 100.75h1.5M195 102.25h1.5M213 102.25h1.5M241.5 106.75h1.5M264 106.75h1.5M234 117.25h1.5M237 117.25h1.5M258 117.25h1.5M210 120.25h1.5M222 120.25h1.5M195 121.75h1.5M199.5 121.75h1.5M213 121.75h1.5" stroke="#122b55" stroke-width="1.85" fill="none"/>
<path d="M208.5 57.25h3M208.5 58.75h3M205.5 60.25h6M205.5 61.75h4.5M204 63.25h4.5M210 63.25h1.5M204 64.75h3M208.5 64.75h3M207 66.25h3M204 67.75h4.5M202.5 69.25h6M187.5 70.75h1.5M204 70.75h4.5M187.5 72.25h3M202.5 72.25h4.5M187.5 73.75h3M202.5 73.75h4.5M186 75.25h4.5M201 75.25h6M186 76.75h4.5M202.5 76.75h3M186 78.25h4.5M201 78.25h6M186 79.75h4.5M199.5 79.75h6M186 81.25h4.5M199.5 81.25h3M204 81.25h1.5M186 82.75h4.5M199.5 82.75h6M186 84.25h6M199.5 84.25h4.5M186 85.75h6M198 85.75h6M186 87.25h4.5M198 87.25h4.5M187.5 88.75h3M198 88.75h4.5M186 90.25h6M196.5 90.25h4.5M186 91.75h6M196.5 91.75h6M186 93.25h4.5M198 93.25h3M187.5 94.75h4.5M196.5 94.75h4.5M186 96.25h6M196.5 96.25h4.5M186 97.75h6M196.5 97.75h4.5M186 99.25h6M193.5 99.25h4.5M186 100.75h6M195 100.75h1.5M198 100.75h1.5M205.5 100.75h1.5M186 102.25h4.5M199.5 102.25h1.5M202.5 102.25h3M186 103.75h6M193.5 103.75h1.5M196.5 103.75h9M207 103.75h6M214.5 103.75h1.5M187.5 105.25h4.5M193.5 105.25h27M186 106.75h36M223.5 106.75h3M228 106.75h3M237 106.75h1.5M252 106.75h1.5M256.5 106.75h1.5M186 108.25h48M235.5 108.25h4.5M243 108.25h3M249 108.25h6M256.5 108.25h1.5M259.5 108.25h1.5M264 108.25h1.5M267 108.25h1.5M186 109.75h61.5M249 109.75h9M259.5 109.75h10.5M271.5 109.75h1.5M186 111.25h84M271.5 111.25h1.5M186 112.75h81M268.5 112.75h1.5M271.5 112.75h1.5M186 114.25h69M256.5 114.25h12M271.5 114.25h1.5M186 115.75h43.5M232.5 115.75h4.5M238.5 115.75h6M246 115.75h1.5M249 115.75h1.5M252 115.75h1.5M256.5 115.75h1.5M261 115.75h1.5M186 117.25h27M216 117.25h1.5M222 117.25h1.5M186 118.75h6M195 118.75h3M199.5 118.75h6M207 118.75h4.5M214.5 118.75h3M186 120.25h6M204 120.25h4.5M216 120.25h1.5M187.5 121.75h4.5M205.5 121.75h1.5" stroke="#1f5a9e" stroke-width="1.56" fill="none"/>
<path d="M187.5 78.25h1.5M187.5 82.75h1.5M187.5 85.75h1.5M187.5 91.75h3M187.5 93.25h1.5M187.5 100.75h1.5M187.5 103.75h3M187.5 105.25h3M198 105.25h12M186 106.75h4.5M193.5 106.75h19.5M186 108.25h36M223.5 108.25h1.5M186 109.75h48M235.5 109.75h9M187.5 111.25h63M252 111.25h6M259.5 111.25h6M187.5 112.75h49.5M240 112.75h15M256.5 112.75h7.5M187.5 114.25h1.5M192 114.25h34.5M228 114.25h4.5M240 114.25h3M252 114.25h1.5M261 114.25h1.5M186 115.75h4.5M193.5 115.75h24M187.5 117.25h1.5M198 117.25h12M189 118.75h1.5" stroke="#238f6a" stroke-width="1.56" fill="none"/>
<path d="M199.5 105.25h1.5M195 106.75h16.5M187.5 108.25h1.5M193.5 108.25h19.5M187.5 109.75h1.5M192 109.75h36M229.5 109.75h1.5M190.5 111.25h45M241.5 111.25h1.5M192 112.75h31.5M225 112.75h1.5M228 112.75h7.5M247.5 112.75h3M193.5 114.25h27M187.5 115.75h1.5M195 115.75h16.5M199.5 117.25h4.5" stroke="#49ad3c" stroke-width="1.56" fill="none"/>
<path d="M196.5 106.75h10.5M195 108.25h16.5M193.5 109.75h27M192 111.25h28.5M193.5 112.75h27M193.5 114.25h22.5M196.5 115.75h12" stroke="#c9d62e" stroke-width="1.56" fill="none"/>
<path d="M196.5 106.75h9M195 108.25h15M193.5 109.75h21M193.5 111.25h27M193.5 112.75h27M195 114.25h15M211.5 114.25h1.5M198 115.75h9" stroke="#f08a1c" stroke-width="1.56" fill="none"/>
<path d="M198 106.75h6M195 108.25h15M193.5 109.75h21M193.5 111.25h27M193.5 112.75h24M195 114.25h13.5M198 115.75h9" stroke="#ee2244" stroke-width="1.56" fill="none"/>
<path d="M320.5 40.75h1.5M329.5 40.75h1.5M346 40.75h1.5M341.5 42.25h1.5M322 43.75h1.5M332.5 43.75h1.5M353.5 43.75h1.5M361 43.75h1.5M323.5 45.25h1.5M292 46.75h1.5M314.5 46.75h1.5M328 46.75h3M352 46.75h1.5M304 48.25h1.5M313 48.25h1.5M335.5 48.25h1.5M298 49.75h1.5M319 51.25h1.5M332.5 51.25h1.5M337 51.25h1.5M311.5 52.75h1.5M335.5 52.75h1.5M310 54.25h1.5M320.5 54.25h3M343 54.25h1.5M367 54.25h1.5M316 55.75h1.5M341.5 55.75h1.5M349 55.75h1.5M307 57.25h1.5M310 57.25h1.5M323.5 57.25h1.5M343 57.25h1.5M296.5 58.75h1.5M301 58.75h1.5M311.5 58.75h1.5M326.5 60.25h1.5M338.5 60.25h1.5M343 60.25h1.5M338.5 61.75h1.5M344.5 61.75h1.5M349 61.75h1.5M355 61.75h1.5M290.5 63.25h1.5M307 63.25h1.5M323.5 63.25h1.5M349 63.25h1.5M296.5 64.75h1.5M325 64.75h1.5M335.5 64.75h1.5M340 64.75h1.5M344.5 64.75h1.5M287.5 66.25h1.5M350.5 66.25h1.5M331 67.75h1.5M346 67.75h1.5M356.5 67.75h1.5M353.5 69.25h1.5M359.5 69.25h1.5M326.5 70.75h1.5M353.5 70.75h1.5M356.5 70.75h1.5M293.5 72.25h1.5M322 73.75h1.5M325 73.75h1.5M328 73.75h1.5M334 73.75h1.5M319 75.25h1.5M292 76.75h1.5M295 76.75h1.5M332.5 78.25h1.5M341.5 79.75h1.5M358 79.75h1.5M365.5 79.75h1.5M320.5 81.25h1.5M359.5 82.75h1.5M289 84.25h1.5M293.5 85.75h1.5M316 85.75h3M322 85.75h1.5M350.5 85.75h1.5M289 87.25h1.5M326.5 87.25h1.5M308.5 88.75h1.5M310 90.25h1.5M337 90.25h1.5M350.5 90.25h1.5M320.5 91.75h1.5M346 91.75h1.5M353.5 91.75h1.5M356.5 91.75h1.5M313 93.25h3M322 93.25h1.5M326.5 93.25h1.5M335.5 93.25h1.5M323.5 94.75h1.5M340 94.75h1.5M305.5 97.75h1.5M308.5 97.75h1.5M322 97.75h1.5M326.5 100.75h3M331 100.75h1.5M359.5 100.75h1.5M304 102.25h1.5M307 103.75h1.5M316 103.75h1.5M320.5 103.75h1.5M314.5 105.25h1.5M317.5 105.25h1.5M320.5 105.25h3M331 105.25h1.5M341.5 106.75h1.5M350.5 106.75h1.5M355 106.75h1.5M365.5 106.75h1.5M350.5 117.25h1.5M337 118.75h1.5M361 118.75h1.5M325 120.25h1.5" stroke="#122b55" stroke-width="1.85" fill="none"/>
<path d="M325 39.25h1.5M325 40.75h1.5M332.5 52.75h1.5M337 52.75h1.5M338.5 54.25h1.5M319 55.75h1.5M337 55.75h3M319 57.25h1.5M308.5 58.75h1.5M314.5 58.75h6M322 58.75h3M308.5 60.25h1.5M314.5 60.25h3M320.5 60.25h4.5M304 61.75h3M308.5 61.75h1.5M313 61.75h3M317.5 61.75h6M325 61.75h3M283 63.25h1.5M292 63.25h1.5M299.5 63.25h3M310 63.25h6M317.5 63.25h4.5M344.5 63.25h1.5M283 64.75h3M292 64.75h1.5M299.5 64.75h1.5M305.5 64.75h1.5M308.5 64.75h1.5M311.5 64.75h1.5M314.5 64.75h3M319 64.75h3M283 66.25h3M295 66.25h1.5M302.5 66.25h3M308.5 66.25h12M283 67.75h6M295 67.75h1.5M301 67.75h4.5M307 67.75h10.5M320.5 67.75h1.5M323.5 67.75h3M349 67.75h1.5M283 69.25h7.5M295 69.25h1.5M299.5 69.25h1.5M302.5 69.25h1.5M305.5 69.25h21M356.5 69.25h1.5M361 69.25h1.5M283 70.75h6M298 70.75h3M304 70.75h15M320.5 70.75h1.5M323.5 70.75h1.5M283 72.25h6M296.5 72.25h3M301 72.25h19.5M323.5 72.25h1.5M283 73.75h4.5M295 73.75h1.5M302.5 73.75h19.5M283 75.25h7.5M295 75.25h1.5M299.5 75.25h16.5M283 76.75h6M299.5 76.75h16.5M283 78.25h6M298 78.25h18M284.5 79.75h3M292 79.75h1.5M295 79.75h19.5M316 79.75h1.5M283 81.25h3M287.5 81.25h4.5M295 81.25h1.5M298 81.25h16.5M316 81.25h1.5M284.5 82.75h3M290.5 82.75h1.5M295 82.75h1.5M298 82.75h6M305.5 82.75h9M283 84.25h4.5M296.5 84.25h13.5M313 84.25h3M283 85.75h6M296.5 85.75h13.5M313 85.75h1.5M283 87.25h4.5M295 87.25h13.5M313 87.25h1.5M283 88.75h4.5M293.5 88.75h15M313 88.75h1.5M283 90.25h6M292 90.25h1.5M295 90.25h13.5M311.5 90.25h3M283 91.75h7.5M292 91.75h13.5M307 91.75h3M283 93.25h6M290.5 93.25h6M298 93.25h10.5M283 94.75h6M290.5 94.75h1.5M293.5 94.75h13.5M283 96.25h6M290.5 96.25h1.5M295 96.25h10.5M283 97.75h6M290.5 97.75h1.5M293.5 97.75h1.5M298 97.75h1.5M301 97.75h1.5M283 99.25h7.5M292 99.25h6M301 99.25h1.5M283 100.75h6M290.5 100.75h1.5M293.5 100.75h9M283 102.25h7.5M292 102.25h1.5M295 102.25h4.5M301 102.25h1.5M308.5 102.25h3M283 103.75h6M292 103.75h1.5M296.5 103.75h4.5M304 103.75h1.5M283 105.25h6M292 105.25h13.5M283 106.75h30M316 106.75h1.5M325 106.75h3M329.5 106.75h1.5M283 108.25h39M325 108.25h6M334 108.25h6M343 108.25h10.5M355 108.25h6M364 108.25h1.5M368.5 108.25h1.5M283 109.75h70.5M355 109.75h13.5M283 111.25h87M283 112.75h87M283 114.25h87M283 115.75h67.5M353.5 115.75h1.5M356.5 115.75h6M364 115.75h6M283 117.25h48M334 117.25h10.5M353.5 117.25h7.5M362.5 117.25h4.5M283 118.75h7.5M292 118.75h30M326.5 118.75h3M341.5 118.75h1.5M353.5 118.75h1.5M358 118.75h1.5M368.5 118.75h1.5M283 120.25h7.5M292 120.25h10.5M304 120.25h6M311.5 120.25h4.5M368.5 120.25h1.5M283 121.75h4.5M308.5 121.75h1.5" stroke="#1f5a9e" stroke-width="1.56" fill="none"/>
<path d="M284.5 67.75h1.5M310 67.75h1.5M310 69.25h1.5M305.5 72.25h1.5M305.5 73.75h3M286 75.25h1.5M305.5 75.25h3M302.5 78.25h3M304 79.75h1.5M308.5 79.75h1.5M310 81.25h1.5M299.5 85.75h1.5M284.5 87.25h3M299.5 87.25h1.5M284.5 88.75h3M284.5 90.25h3M296.5 90.25h1.5M284.5 91.75h3M283 93.25h4.5M283 94.75h6M283 96.25h6M283 97.75h6M283 99.25h4.5M283 100.75h6M283 102.25h6M283 103.75h6M283 105.25h4.5M284.5 106.75h3M292 106.75h13.5M284.5 108.25h3M290.5 108.25h27M284.5 109.75h3M290.5 109.75h30M331 109.75h7.5M283 111.25h60M347.5 111.25h6M362.5 111.25h4.5M283 112.75h63M347.5 112.75h12M361 112.75h9M284.5 114.25h63M349 114.25h1.5M367 114.25h1.5M284.5 115.75h3M290.5 115.75h31.5M325 115.75h3M329.5 115.75h3M337 115.75h3M346 115.75h1.5M284.5 117.25h1.5M292 117.25h22.5M317.5 117.25h1.5M296.5 118.75h4.5" stroke="#238f6a" stroke-width="1.56" fill="none"/>
<path d="M284.5 91.75h1.5M284.5 93.25h3M284.5 94.75h3M283 96.25h4.5M283 97.75h4.5M283 99.25h4.5M284.5 100.75h1.5M284.5 102.25h3M284.5 103.75h3M296.5 106.75h3M302.5 106.75h1.5M292 108.25h16.5M290.5 109.75h25.5M290.5 111.25h34.5M332.5 111.25h4.5M289 112.75h42M332.5 112.75h10.5M289 114.25h34.5M326.5 114.25h6M292 115.75h24M293.5 117.25h13.5" stroke="#49ad3c" stroke-width="1.56" fill="none"/>
<path d="M284.5 97.75h1.5M295 108.25h12M292 109.75h21M290.5 111.25h25.5M290.5 112.75h33M292 114.25h24M319 114.25h3M293.5 115.75h15M296.5 117.25h4.5" stroke="#c9d62e" stroke-width="1.56" fill="none"/>
<path d="M295 108.25h10.5M292 109.75h19.5M290.5 111.25h24M290.5 112.75h25.5M319 112.75h3M292 114.25h22.5M320.5 114.25h1.5M293.5 115.75h15M299.5 117.25h1.5" stroke="#f08a1c" stroke-width="1.56" fill="none"/>
<path d="M296.5 108.25h9M292 109.75h18M290.5 111.25h24M290.5 112.75h24M320.5 112.75h1.5M292 114.25h22.5M293.5 115.75h13.5" stroke="#ee2244" stroke-width="1.56" fill="none"/>
<path d="M443.5 42.25h1.5M404.5 43.75h1.5M433 43.75h1.5M445 43.75h1.5M418 45.25h1.5M448 45.25h1.5M455.5 45.25h1.5M395.5 46.75h1.5M412 46.75h1.5M419.5 46.75h1.5M428.5 46.75h1.5M398.5 48.25h1.5M404.5 48.25h1.5M415 48.25h1.5M437.5 48.25h3M419.5 49.75h3M434.5 49.75h1.5M440.5 49.75h3M464.5 49.75h1.5M392.5 51.25h1.5M400 51.25h1.5M418 51.25h1.5M395.5 52.75h1.5M410.5 52.75h1.5M427 52.75h1.5M436 52.75h1.5M461.5 54.25h3M388 55.75h1.5M392.5 55.75h1.5M404.5 55.75h1.5M428.5 55.75h1.5M431.5 55.75h1.5M389.5 57.25h1.5M395.5 57.25h3M400 57.25h1.5M430 57.25h1.5M437.5 57.25h3M394 58.75h1.5M427 58.75h1.5M431.5 58.75h1.5M443.5 58.75h1.5M397 60.25h1.5M464.5 60.25h1.5M385 61.75h1.5M391 61.75h1.5M397 61.75h1.5M425.5 61.75h1.5M428.5 61.75h1.5M436 63.25h1.5M443.5 63.25h1.5M451 63.25h1.5M388 64.75h1.5M391 64.75h1.5M422.5 64.75h1.5M439 64.75h1.5M452.5 66.25h1.5M463 66.25h1.5M436 67.75h1.5M448 67.75h1.5M391 69.25h1.5M445 69.25h1.5M464.5 69.25h1.5M395.5 70.75h1.5M427 70.75h1.5M434.5 70.75h1.5M439 70.75h1.5M392.5 72.25h1.5M428.5 72.25h1.5M436 72.25h1.5M394 73.75h1.5M433 73.75h1.5M437.5 73.75h1.5M460 73.75h1.5M463 73.75h1.5M422.5 75.25h1.5M430 75.25h1.5M436 76.75h1.5M439 76.75h1.5M443.5 76.75h1.5M463 76.75h1.5M446.5 78.25h1.5M454 78.25h1.5M458.5 78.25h1.5M464.5 78.25h1.5M442 79.75h1.5M445 79.75h1.5M457 79.75h1.5M391 81.25h1.5M394 81.25h1.5M437.5 81.25h1.5M442 81.25h1.5M454 82.75h1.5M458.5 82.75h1.5M395.5 84.25h1.5M425.5 84.25h3M431.5 84.25h1.5M439 84.25h1.5M446.5 84.25h1.5M460 84.25h1.5M394 85.75h1.5M416.5 85.75h1.5M422.5 85.75h1.5M433 85.75h1.5M440.5 85.75h1.5M421 87.25h1.5M431.5 87.25h1.5M391 88.75h1.5M418 88.75h1.5M458.5 88.75h1.5M463 88.75h1.5M389.5 90.25h1.5M416.5 90.25h1.5M434.5 90.25h1.5M454 90.25h3M407.5 91.75h1.5M436 91.75h1.5M446.5 91.75h1.5M451 91.75h1.5M410.5 93.25h1.5M418 93.25h1.5M422.5 93.25h1.5M443.5 93.25h1.5M446.5 93.25h1.5M391 94.75h1.5M406 94.75h4.5M418 94.75h1.5M433 94.75h1.5M436 94.75h1.5M457 94.75h1.5M413.5 96.25h3M421 96.25h1.5M434.5 96.25h1.5M440.5 96.25h1.5M394 97.75h1.5M416.5 97.75h1.5M422.5 97.75h1.5M389.5 99.25h3M397 99.25h1.5M422.5 99.25h1.5M425.5 99.25h1.5M431.5 99.25h1.5M440.5 99.25h1.5M451 99.25h1.5M463 99.25h1.5M400 100.75h1.5M448 100.75h1.5M410.5 102.25h1.5M413.5 102.25h1.5M418 103.75h1.5M419.5 105.25h1.5M437.5 105.25h1.5M442 105.25h1.5M455.5 105.25h1.5M464.5 105.25h1.5M425.5 106.75h1.5M448 106.75h1.5M431.5 118.75h1.5M436 118.75h1.5M416.5 120.25h1.5M439 120.25h1.5M410.5 121.75h1.5M421 121.75h1.5" stroke="#122b55" stroke-width="1.85" fill="none"/>
<path d="M427 51.25h1.5M403 52.75h1.5M413.5 52.75h6M409 54.25h1.5M418 54.25h4.5M434.5 54.25h3M407.5 55.75h1.5M413.5 55.75h1.5M416.5 55.75h4.5M422.5 55.75h1.5M403 57.25h1.5M406 57.25h3M412 57.25h4.5M418 57.25h1.5M422.5 57.25h1.5M397 58.75h1.5M401.5 58.75h3M406 58.75h1.5M410.5 58.75h3M415 58.75h3M422.5 58.75h1.5M406 60.25h7.5M415 60.25h1.5M418 60.25h7.5M427 60.25h1.5M439 60.25h1.5M400 61.75h3M404.5 61.75h16.5M422.5 61.75h3M394 63.25h3M400 63.25h24M382 64.75h3M395.5 64.75h4.5M401.5 64.75h13.5M416.5 64.75h4.5M428.5 64.75h1.5M383.5 66.25h4.5M397 66.25h6M404.5 66.25h16.5M424 66.25h1.5M428.5 66.25h3M383.5 67.75h4.5M401.5 67.75h18M421 67.75h7.5M382 69.25h6M398.5 69.25h1.5M401.5 69.25h25.5M454 69.25h1.5M382 70.75h4.5M398.5 70.75h1.5M401.5 70.75h22.5M433 70.75h1.5M442 70.75h3M454 70.75h1.5M382 72.25h6M395.5 72.25h1.5M398.5 72.25h1.5M401.5 72.25h21M433 72.25h1.5M461.5 72.25h1.5M382 73.75h6M397 73.75h22.5M425.5 73.75h3M382 75.25h4.5M397 75.25h1.5M400 75.25h1.5M403 75.25h18M424 75.25h3M382 76.75h4.5M391 76.75h3M395.5 76.75h3M400 76.75h21M425.5 76.75h4.5M382 78.25h6M392.5 78.25h3M397 78.25h19.5M418 78.25h6M425.5 78.25h3M430 78.25h3M382 79.75h4.5M397 79.75h1.5M401.5 79.75h13.5M416.5 79.75h3M422.5 79.75h1.5M425.5 79.75h3M430 79.75h1.5M382 81.25h7.5M395.5 81.25h1.5M400 81.25h13.5M415 81.25h6M422.5 81.25h4.5M382 82.75h7.5M397 82.75h16.5M415 82.75h7.5M382 84.25h6M400 84.25h16.5M419.5 84.25h3M382 85.75h6M397 85.75h12M410.5 85.75h4.5M439 85.75h1.5M382 87.25h6M395.5 87.25h10.5M410.5 87.25h1.5M382 88.75h7.5M392.5 88.75h3M398.5 88.75h10.5M412 88.75h1.5M442 88.75h3M382 90.25h6M394 90.25h4.5M400 90.25h7.5M412 90.25h1.5M382 91.75h6M394 91.75h13.5M382 93.25h7.5M392.5 93.25h10.5M406 93.25h1.5M430 93.25h1.5M382 94.75h6M394 94.75h10.5M382 96.25h6M389.5 96.25h1.5M394 96.25h1.5M397 96.25h7.5M382 97.75h7.5M398.5 97.75h3M382 99.25h6M401.5 99.25h1.5M433 99.25h1.5M382 100.75h7.5M394 100.75h3M382 102.25h7.5M395.5 102.25h1.5M398.5 102.25h1.5M401.5 102.25h4.5M382 103.75h7.5M392.5 103.75h1.5M404.5 103.75h3M409 103.75h1.5M415 103.75h3M382 105.25h6M389.5 105.25h6M398.5 105.25h3M403 105.25h6M412 105.25h1.5M415 105.25h1.5M382 106.75h28.5M412 106.75h3M416.5 106.75h3M421 106.75h1.5M434.5 106.75h4.5M446.5 106.75h1.5M382 108.25h43.5M427 108.25h4.5M434.5 108.25h9M446.5 108.25h1.5M449.5 108.25h6M461.5 108.25h1.5M464.5 108.25h3M382 109.75h85.5M382 111.25h85.5M382 112.75h85.5M382 114.25h85.5M382 115.75h85.5M382 117.25h34.5M418 117.25h7.5M428.5 117.25h4.5M434.5 117.25h1.5M437.5 117.25h15M454 117.25h13.5M382 118.75h10.5M394 118.75h24M421 118.75h3M437.5 118.75h1.5M443.5 118.75h3M454 118.75h6M461.5 118.75h1.5M382 120.25h4.5M391 120.25h1.5M398.5 120.25h3M406 120.25h3M445 120.25h1.5M457 120.25h1.5M461.5 120.25h1.5M383.5 121.75h4.5M406 121.75h3" stroke="#1f5a9e" stroke-width="1.56" fill="none"/>
<path d="M410.5 60.25h1.5M407.5 63.25h3M410.5 66.25h1.5M412 67.75h1.5M415 67.75h1.5M409 69.25h3M409 70.75h1.5M407.5 72.25h3M404.5 73.75h7.5M383.5 75.25h3M404.5 75.25h3M409 75.25h3M404.5 76.75h1.5M409 76.75h3M403 78.25h1.5M406 78.25h1.5M409 78.25h3M383.5 82.75h1.5M383.5 84.25h1.5M383.5 85.75h1.5M383.5 87.25h3M382 88.75h4.5M382 90.25h4.5M382 91.75h4.5M382 93.25h4.5M382 94.75h4.5M382 96.25h4.5M382 97.75h6M382 99.25h6M382 100.75h6M382 102.25h6M382 103.75h4.5M382 105.25h6M382 106.75h4.5M392.5 106.75h1.5M395.5 106.75h6M407.5 106.75h1.5M382 108.25h4.5M389.5 108.25h22.5M382 109.75h43.5M436 109.75h3M440.5 109.75h1.5M382 111.25h60M445 111.25h3M455.5 111.25h1.5M463 111.25h3M382 112.75h61.5M446.5 112.75h21M382 114.25h61.5M448 114.25h18M382 115.75h6M389.5 115.75h25.5M418 115.75h6M436 115.75h6M460 115.75h1.5M383.5 117.25h3M392.5 117.25h18M383.5 118.75h3M406 118.75h1.5M383.5 120.25h3" stroke="#238f6a" stroke-width="1.56" fill="none"/>
<path d="M383.5 90.25h3M383.5 91.75h3M383.5 93.25h3M383.5 94.75h3M382 96.25h3M383.5 97.75h3M382 99.25h4.5M383.5 100.75h3M383.5 102.25h3M382 103.75h4.5M383.5 105.25h3M383.5 106.75h3M382 108.25h3M391 108.25h12M407.5 108.25h1.5M382 109.75h4.5M389.5 109.75h24M418 109.75h3M383.5 111.25h39M424 111.25h4.5M434.5 111.25h4.5M382 112.75h60M383.5 114.25h3M389.5 114.25h34.5M428.5 114.25h3M434.5 114.25h6M383.5 115.75h3M389.5 115.75h21M394 117.25h9" stroke="#49ad3c" stroke-width="1.56" fill="none"/>
<path d="M383.5 94.75h1.5M394 108.25h7.5M383.5 109.75h1.5M389.5 109.75h22.5M389.5 111.25h24M415 111.25h1.5M383.5 112.75h1.5M389.5 112.75h27M424 112.75h1.5M391 114.25h22.5M391 115.75h13.5M407.5 115.75h1.5" stroke="#c9d62e" stroke-width="1.56" fill="none"/>
<path d="M395.5 108.25h6M391 109.75h15M389.5 111.25h24M389.5 112.75h25.5M391 114.25h21M392.5 115.75h12" stroke="#f08a1c" stroke-width="1.56" fill="none"/>
<path d="M397 108.25h4.5M391 109.75h13.5M389.5 111.25h22.5M391 112.75h22.5M391 114.25h19.5M392.5 115.75h10.5" stroke="#ee2244" stroke-width="1.56" fill="none"/>
<path d="M163 268.25h1.5M103 269.75h1.5M118 269.75h1.5M107.5 271.25h1.5M119.5 271.25h1.5M154 271.25h1.5M164.5 271.25h1.5M134.5 272.75h1.5M113.5 274.25h1.5M173.5 274.25h1.5M100 275.75h1.5M127 275.75h1.5M139 275.75h1.5M148 275.75h1.5M161.5 275.75h1.5M122.5 277.25h1.5M100 278.75h1.5M104.5 278.75h1.5M127 278.75h1.5M130 278.75h1.5M137.5 278.75h1.5M152.5 278.75h1.5M166 278.75h1.5M107.5 280.25h1.5M131.5 280.25h1.5M148 280.25h1.5M109 281.75h1.5M124 281.75h1.5M130 281.75h1.5M133 281.75h1.5M155.5 281.75h1.5M103 283.25h3M128.5 283.25h1.5M92.5 284.75h1.5M127 286.25h1.5M133 286.25h1.5M137.5 286.25h1.5M98.5 287.75h1.5M125.5 287.75h1.5M142 287.75h1.5M157 287.75h1.5M101.5 289.25h1.5M140.5 289.25h1.5M154 289.25h1.5M103 290.75h1.5M130 290.75h1.5M133 290.75h1.5M160 290.75h1.5M163 290.75h1.5M101.5 292.25h1.5M104.5 292.25h1.5M164.5 292.25h1.5M130 293.75h1.5M134.5 293.75h1.5M139 293.75h1.5M142 293.75h1.5M170.5 293.75h1.5M133 295.25h1.5M136 295.25h1.5M155.5 295.25h1.5M164.5 295.25h1.5M100 296.75h1.5M98.5 298.25h1.5M101.5 298.25h1.5M122.5 298.25h1.5M130 298.25h1.5M136 298.25h1.5M140.5 298.25h1.5M166 298.25h3M155.5 299.75h1.5M133 301.25h1.5M148 301.25h1.5M169 301.25h1.5M97 302.75h1.5M125.5 302.75h1.5M128.5 304.25h1.5M128.5 307.25h1.5M124 308.75h1.5M130 308.75h1.5M143.5 308.75h1.5M161.5 308.75h1.5M115 310.25h1.5M121 310.25h1.5M136 310.25h1.5M166 310.25h1.5M169 310.25h1.5M137.5 311.75h3M118 313.25h1.5M121 313.25h3M118 314.75h1.5M125.5 314.75h1.5M131.5 314.75h1.5M142 314.75h1.5M130 316.25h1.5M136 316.25h1.5M157 316.25h1.5M121 317.75h1.5M142 317.75h3M163 317.75h1.5M112 319.25h1.5M160 319.25h1.5M124 320.75h1.5M148 320.75h1.5M169 322.25h1.5M118 323.75h1.5M125.5 323.75h1.5M160 325.25h1.5M145 326.75h1.5M158.5 326.75h1.5M167.5 328.25h1.5M175 328.25h1.5M148 337.25h1.5M101.5 340.25h1.5M143.5 340.25h1.5M149.5 340.25h1.5M103 341.75h1.5M172 341.75h1.5" stroke="#122b55" stroke-width="1.85" fill="none"/>
<path d="M160 268.25h1.5M166 272.75h3M118 274.25h1.5M118 275.75h1.5M115 277.25h6M124 277.25h3M110.5 278.75h1.5M125.5 278.75h1.5M110.5 280.25h9M121 280.25h1.5M112 281.75h1.5M115 281.75h6M110.5 283.25h3M115 283.25h7.5M110.5 284.75h12M91 286.25h1.5M106 286.25h4.5M112 286.25h9M91 287.75h1.5M94 287.75h1.5M106 287.75h1.5M110.5 287.75h9M122.5 287.75h1.5M127 287.75h3M91 289.25h4.5M98.5 289.25h1.5M107.5 289.25h3M112 289.25h9M122.5 289.25h3M128.5 289.25h1.5M91 290.75h4.5M109 290.75h10.5M122.5 290.75h3M128.5 290.75h1.5M91 292.25h4.5M109 292.25h12M124 292.25h3M91 293.75h3M106 293.75h16.5M124 293.75h4.5M91 295.25h4.5M103 295.25h3M107.5 295.25h3M112 295.25h12M125.5 295.25h1.5M128.5 295.25h1.5M91 296.75h4.5M106 296.75h3M112 296.75h7.5M124 296.75h7.5M91 298.25h4.5M104.5 298.25h3M110.5 298.25h7.5M91 299.75h4.5M103 299.75h3M107.5 299.75h16.5M125.5 299.75h1.5M91 301.25h4.5M98.5 301.25h13.5M113.5 301.25h10.5M139 301.25h3M91 302.75h4.5M100 302.75h1.5M106 302.75h6M113.5 302.75h6M122.5 302.75h3M91 304.25h4.5M100 304.25h1.5M103 304.25h4.5M109 304.25h7.5M118 304.25h1.5M121 304.25h3M91 305.75h6M101.5 305.75h4.5M109 305.75h1.5M115 305.75h3M119.5 305.75h7.5M91 307.25h4.5M100 307.25h6M107.5 307.25h9M118 307.25h4.5M125.5 307.25h1.5M91 308.75h3M101.5 308.75h7.5M110.5 308.75h1.5M118 308.75h4.5M91 310.25h4.5M97 310.25h3M101.5 310.25h3M106 310.25h4.5M112 310.25h3M118 310.25h1.5M91 311.75h6M100 311.75h3M104.5 311.75h6M112 311.75h1.5M91 313.25h4.5M101.5 313.25h1.5M104.5 313.25h3M110.5 313.25h1.5M113.5 313.25h1.5M91 314.75h4.5M103 314.75h1.5M107.5 314.75h1.5M110.5 314.75h1.5M113.5 314.75h3M91 316.25h4.5M97 316.25h13.5M91 317.75h4.5M100 317.75h3M106 317.75h3M91 319.25h6M100 319.25h7.5M110.5 319.25h1.5M91 320.75h4.5M97 320.75h1.5M100 320.75h1.5M107.5 320.75h1.5M91 322.25h6M100 322.25h1.5M103 322.25h1.5M91 323.75h4.5M103 323.75h7.5M91 325.25h4.5M104.5 325.25h6M112 325.25h1.5M115 325.25h4.5M121 325.25h4.5M157 325.25h1.5M91 326.75h9M101.5 326.75h1.5M104.5 326.75h19.5M125.5 326.75h3M131.5 326.75h3M140.5 326.75h3M152.5 326.75h1.5M155.5 326.75h3M170.5 326.75h1.5M91 328.25h43.5M136 328.25h3M140.5 328.25h6M152.5 328.25h3M160 328.25h1.5M164.5 328.25h1.5M170.5 328.25h3M91 329.75h52.5M145 329.75h22.5M169 329.75h4.5M91 331.25h85.5M91 332.75h85.5M91 334.25h85.5M91 335.75h84M91 337.25h6M98.5 337.25h48M151 337.25h3M155.5 337.25h7.5M166 337.25h7.5M91 338.75h4.5M98.5 338.75h1.5M103 338.75h21M130 338.75h4.5M136 338.75h1.5M140.5 338.75h4.5M149.5 338.75h1.5M152.5 338.75h1.5M155.5 338.75h1.5M158.5 338.75h1.5M161.5 338.75h3M167.5 338.75h1.5M170.5 338.75h1.5M173.5 338.75h1.5M91 340.25h4.5M106 340.25h1.5M109 340.25h3M113.5 340.25h6M121 340.25h3M173.5 340.25h1.5M91 341.75h3M110.5 341.75h1.5M121 341.75h1.5" stroke="#1f5a9e" stroke-width="1.56" fill="none"/>
<path d="M92.5 302.75h1.5M91 305.75h3M92.5 307.25h1.5M92.5 311.75h1.5M92.5 313.25h1.5M91 316.25h1.5M91 317.75h3M91 319.25h3M91 320.75h4.5M91 322.25h4.5M91 323.75h4.5M91 325.25h4.5M91 326.75h4.5M115 326.75h1.5M91 328.25h4.5M104.5 328.25h16.5M122.5 328.25h1.5M91 329.75h6M98.5 329.75h31.5M133 329.75h1.5M91 331.25h52.5M146.5 331.25h9M161.5 331.25h1.5M173.5 331.25h1.5M91 332.75h64.5M157 332.75h10.5M172 332.75h4.5M91 334.25h63M161.5 334.25h1.5M167.5 334.25h1.5M173.5 334.25h1.5M91 335.75h4.5M97 335.75h30M130 335.75h3M134.5 335.75h1.5M142 335.75h3M91 337.25h4.5M103 337.25h15M119.5 337.25h4.5M116.5 338.75h1.5" stroke="#238f6a" stroke-width="1.56" fill="none"/>
<path d="M91 320.75h3M91 322.25h3M91 323.75h3M91 325.25h3M91 326.75h3M91 328.25h4.5M91 329.75h4.5M100 329.75h24M91 331.25h4.5M98.5 331.25h36M140.5 331.25h3M91 332.75h4.5M97 332.75h46.5M91 334.25h4.5M98.5 334.25h30M133 334.25h3M139 334.25h1.5M91 335.75h4.5M103 335.75h22.5M109 337.25h1.5" stroke="#49ad3c" stroke-width="1.56" fill="none"/>
<path d="M92.5 322.25h1.5M92.5 325.25h1.5M91 326.75h3M91 328.25h3M91 329.75h3M103 329.75h13.5M118 329.75h1.5M91 331.25h3M100 331.25h27M91 332.75h4.5M98.5 332.75h31.5M136 332.75h3M91 334.25h3M100 334.25h27M106 335.75h12" stroke="#c9d62e" stroke-width="1.56" fill="none"/>
<path d="M92.5 326.75h1.5M92.5 328.25h1.5M91 329.75h3M104.5 329.75h9M91 331.25h3M100 331.25h24M91 332.75h3M100 332.75h28.5M92.5 334.25h1.5M101.5 334.25h25.5M107.5 335.75h7.5" stroke="#f08a1c" stroke-width="1.56" fill="none"/>
<path d="M92.5 328.25h1.5M106 329.75h7.5M92.5 331.25h1.5M100 331.25h24M91 332.75h3M100 332.75h28.5M101.5 334.25h22.5M107.5 335.75h4.5" stroke="#ee2244" stroke-width="1.56" fill="none"/>
<path d="M240 261.75h1.5M264 261.75h1.5M217.5 263.25h1.5M250.5 263.25h1.5M258 263.25h1.5M238.5 264.75h1.5M267 264.75h1.5M195 266.25h1.5M205.5 266.25h1.5M229.5 266.25h1.5M250.5 266.25h1.5M207 267.75h1.5M211.5 269.25h1.5M214.5 269.25h1.5M225 269.25h1.5M237 269.25h1.5M246 269.25h1.5M219 270.75h1.5M226.5 270.75h1.5M238.5 270.75h1.5M258 270.75h1.5M202.5 272.25h1.5M208.5 272.25h1.5M228 272.25h1.5M270 272.25h1.5M225 273.75h1.5M231 273.75h1.5M247.5 273.75h1.5M259.5 273.75h1.5M208.5 275.25h1.5M256.5 275.25h1.5M196.5 276.75h1.5M219 276.75h1.5M226.5 276.75h1.5M202.5 278.25h1.5M220.5 278.25h1.5M225 278.25h1.5M231 278.25h1.5M267 278.25h3M201 279.75h1.5M207 279.75h1.5M223.5 279.75h3M231 279.75h1.5M256.5 279.75h1.5M198 281.25h1.5M204 281.25h1.5M189 282.75h3M198 282.75h1.5M204 282.75h1.5M228 282.75h1.5M234 282.75h1.5M244.5 282.75h1.5M258 282.75h1.5M193.5 284.25h1.5M201 284.25h1.5M228 284.25h3M199.5 285.75h1.5M226.5 285.75h1.5M232.5 285.75h1.5M246 285.75h1.5M196.5 287.25h1.5M199.5 287.25h1.5M228 287.25h1.5M241.5 287.25h1.5M253.5 287.25h1.5M270 287.25h1.5M195 288.75h1.5M201 290.25h1.5M226.5 290.25h1.5M238.5 290.25h1.5M252 290.25h1.5M244.5 291.75h1.5M229.5 293.25h1.5M246 294.75h1.5M264 294.75h1.5M198 296.25h1.5M231 296.25h3M235.5 296.25h1.5M198 297.75h1.5M229.5 297.75h1.5M228 299.25h1.5M235.5 299.25h1.5M238.5 299.25h1.5M234 300.75h1.5M258 300.75h1.5M241.5 302.25h1.5M256.5 302.25h1.5M268.5 302.25h1.5M258 303.75h1.5M252 305.25h1.5M196.5 306.75h1.5M232.5 306.75h1.5M244.5 306.75h1.5M226.5 308.25h1.5M235.5 308.25h1.5M243 308.25h1.5M229.5 309.75h1.5M258 309.75h1.5M222 311.25h1.5M241.5 311.25h1.5M247.5 311.25h1.5M253.5 311.25h1.5M228 312.75h1.5M231 312.75h1.5M259.5 312.75h1.5M214.5 314.25h1.5M220.5 314.25h1.5M223.5 314.25h1.5M211.5 315.75h1.5M214.5 315.75h1.5M217.5 315.75h1.5M225 315.75h3M244.5 315.75h1.5M201 317.25h1.5M205.5 317.25h1.5M232.5 317.25h1.5M214.5 318.75h1.5M201 320.25h1.5M208.5 320.25h1.5M222 320.25h1.5M226.5 320.25h1.5M256.5 320.25h1.5M268.5 320.25h1.5M201 321.75h1.5M204 321.75h1.5M211.5 321.75h1.5M222 321.75h1.5M205.5 323.25h1.5M219 323.25h1.5M204 324.75h1.5M207 324.75h1.5M237 324.75h1.5M265.5 324.75h1.5M270 324.75h1.5M229.5 326.25h1.5M241.5 326.25h1.5M247.5 326.25h1.5M252 326.25h1.5M258 326.25h1.5M267 326.25h3M237 327.75h3M235.5 339.75h1.5M238.5 339.75h1.5M252 339.75h3M271.5 339.75h1.5M268.5 341.25h1.5" stroke="#122b55" stroke-width="1.85" fill="none"/>
<path d="M207 266.25h1.5M214.5 272.25h3M214.5 273.75h4.5M222 273.75h1.5M229.5 273.75h1.5M211.5 275.25h4.5M217.5 275.25h1.5M220.5 275.25h4.5M226.5 275.25h1.5M208.5 276.75h1.5M211.5 276.75h1.5M208.5 278.25h10.5M202.5 279.75h1.5M217.5 279.75h1.5M243 279.75h1.5M211.5 281.25h12M210 282.75h6M217.5 282.75h7.5M192 284.25h1.5M210 284.25h1.5M214.5 284.25h10.5M232.5 284.25h1.5M189 285.75h4.5M202.5 285.75h1.5M210 285.75h3M214.5 285.75h12M189 287.25h4.5M205.5 287.25h12M219 287.25h4.5M225 287.25h1.5M189 288.75h4.5M205.5 288.75h3M210 288.75h6M220.5 288.75h3M225 288.75h1.5M189 290.25h4.5M204 290.25h1.5M208.5 290.25h16.5M189 291.75h4.5M196.5 291.75h1.5M202.5 291.75h1.5M208.5 291.75h13.5M223.5 291.75h1.5M226.5 291.75h3M189 293.25h4.5M196.5 293.25h3M202.5 293.25h1.5M205.5 293.25h3M210 293.25h15M226.5 293.25h1.5M189 294.75h6M198 294.75h1.5M201 294.75h1.5M204 294.75h22.5M189 296.25h7.5M202.5 296.25h18M222 296.25h1.5M226.5 296.25h1.5M189 297.75h7.5M201 297.75h1.5M205.5 297.75h18M225 297.75h1.5M189 299.25h6M196.5 299.25h1.5M199.5 299.25h1.5M205.5 299.25h9M217.5 299.25h3M222 299.25h1.5M225 299.25h3M189 300.75h7.5M199.5 300.75h1.5M202.5 300.75h1.5M205.5 300.75h13.5M220.5 300.75h6M231 300.75h1.5M189 302.25h4.5M196.5 302.25h3M201 302.25h19.5M222 302.25h3M226.5 302.25h3M189 303.75h4.5M198 303.75h1.5M202.5 303.75h9M213 303.75h4.5M220.5 303.75h3M225 303.75h3M189 305.25h4.5M201 305.25h4.5M207 305.25h15M226.5 305.25h3M189 306.75h6M201 306.75h6M210 306.75h10.5M222 306.75h3M228 306.75h3M189 308.25h6M198 308.25h3M202.5 308.25h16.5M189 309.75h4.5M198 309.75h1.5M201 309.75h6M208.5 309.75h1.5M211.5 309.75h7.5M189 311.25h4.5M196.5 311.25h4.5M202.5 311.25h4.5M210 311.25h4.5M216 311.25h1.5M228 311.25h1.5M189 312.75h4.5M196.5 312.75h4.5M204 312.75h3M208.5 312.75h4.5M216 312.75h1.5M189 314.25h6M198 314.25h10.5M189 315.75h10.5M202.5 315.75h1.5M207 315.75h1.5M189 317.25h4.5M198 317.25h1.5M207 317.25h1.5M211.5 317.25h1.5M189 318.75h6M211.5 318.75h1.5M189 320.25h6M211.5 320.25h1.5M189 321.75h7.5M217.5 321.75h1.5M189 323.25h6M204 323.25h1.5M189 324.75h6M196.5 324.75h1.5M211.5 324.75h4.5M232.5 324.75h3M189 326.25h6M196.5 326.25h6M204 326.25h3M210 326.25h6M217.5 326.25h7.5M253.5 326.25h1.5M189 327.75h40.5M231 327.75h3M235.5 327.75h1.5M243 327.75h1.5M247.5 327.75h1.5M252 327.75h3M261 327.75h3M265.5 327.75h1.5M273 327.75h1.5M189 329.25h48M241.5 329.25h7.5M250.5 329.25h1.5M255 329.25h3M259.5 329.25h10.5M271.5 329.25h3M189 330.75h84M189 332.25h85.5M189 333.75h85.5M189 335.25h85.5M189 336.75h43.5M234 336.75h19.5M255 336.75h1.5M259.5 336.75h15M189 338.25h42M232.5 338.25h3M237 338.25h1.5M241.5 338.25h3M246 338.25h6M259.5 338.25h1.5M262.5 338.25h4.5M268.5 338.25h3M189 339.75h6M196.5 339.75h3M201 339.75h4.5M208.5 339.75h22.5M232.5 339.75h1.5M246 339.75h1.5M249 339.75h3M256.5 339.75h4.5M264 339.75h1.5M189 341.25h4.5M199.5 341.25h1.5M213 341.25h1.5M217.5 341.25h1.5M220.5 341.25h3M225 341.25h1.5M240 341.25h1.5M250.5 341.25h1.5M258 341.25h1.5M261 341.25h1.5M273 341.25h1.5" stroke="#1f5a9e" stroke-width="1.56" fill="none"/>
<path d="M190.5 288.75h1.5M190.5 290.25h3M217.5 290.25h1.5M189 291.75h4.5M217.5 291.75h1.5M189 293.25h3M211.5 293.25h1.5M190.5 297.75h1.5M189 299.25h3M190.5 300.75h1.5M190.5 302.25h1.5M190.5 303.75h1.5M190.5 308.25h3M205.5 308.25h1.5M190.5 309.75h1.5M189 311.25h3M190.5 312.75h1.5M190.5 314.25h3M189 315.75h4.5M189 317.25h4.5M189 318.75h4.5M189 320.25h4.5M189 321.75h4.5M189 323.25h4.5M189 324.75h4.5M189 326.25h4.5M189 327.75h4.5M207 327.75h7.5M189 329.25h6M199.5 329.25h24M225 329.25h3M189 330.75h6M196.5 330.75h40.5M238.5 330.75h1.5M243 330.75h1.5M246 330.75h1.5M252 330.75h4.5M259.5 330.75h1.5M189 332.25h76.5M268.5 332.25h4.5M189 333.75h76.5M268.5 333.75h4.5M189 335.25h70.5M261 335.25h4.5M189 336.75h4.5M199.5 336.75h28.5M189 338.25h3M204 338.25h1.5M211.5 338.25h7.5M222 338.25h1.5M189 339.75h3" stroke="#238f6a" stroke-width="1.56" fill="none"/>
<path d="M190.5 317.25h1.5M190.5 318.75h1.5M189 320.25h4.5M189 321.75h4.5M189 323.25h4.5M189 324.75h4.5M189 326.25h3M189 327.75h3M189 329.25h4.5M202.5 329.25h15M189 330.75h4.5M198 330.75h28.5M229.5 330.75h1.5M189 332.25h4.5M196.5 332.25h39M246 332.25h1.5M253.5 332.25h4.5M259.5 332.25h1.5M189 333.75h4.5M196.5 333.75h43.5M241.5 333.75h3M246 333.75h13.5M262.5 333.75h3M189 335.25h4.5M198 335.25h31.5M231 335.25h1.5M190.5 336.75h1.5M202.5 336.75h3M207 336.75h1.5M211.5 336.75h7.5" stroke="#49ad3c" stroke-width="1.56" fill="none"/>
<path d="M190.5 320.25h1.5M190.5 321.75h1.5M190.5 323.25h1.5M189 324.75h3M189 326.25h3M189 327.75h3M199.5 330.75h19.5M198 332.25h33M189 333.75h3M196.5 333.75h36M199.5 335.25h19.5M222 335.25h3" stroke="#c9d62e" stroke-width="1.56" fill="none"/>
<path d="M190.5 324.75h1.5M190.5 326.25h1.5M201 330.75h16.5M198 332.25h33M198 333.75h31.5M201 335.25h18" stroke="#f08a1c" stroke-width="1.56" fill="none"/>
<path d="M190.5 324.75h1.5M201 330.75h15M198 332.25h28.5M198 333.75h31.5M201 335.25h18" stroke="#ee2244" stroke-width="1.56" fill="none"/>
<path d="M315.5 261.75h1.5M347 261.75h1.5M302 264.75h1.5M317 264.75h1.5M329 264.75h1.5M332 264.75h1.5M335 264.75h1.5M350 264.75h1.5M359 264.75h1.5M321.5 266.25h1.5M345.5 266.25h1.5M354.5 266.25h1.5M318.5 267.75h1.5M327.5 267.75h1.5M333.5 267.75h1.5M362 267.75h1.5M305 269.25h1.5M309.5 269.25h1.5M333.5 269.25h1.5M296 270.75h1.5M329 270.75h1.5M335 270.75h1.5M296 272.25h1.5M321.5 272.25h1.5M333.5 272.25h1.5M339.5 272.25h1.5M351.5 272.25h1.5M357.5 272.25h1.5M309.5 273.75h1.5M342.5 273.75h1.5M356 273.75h1.5M323 275.25h3M330.5 275.25h1.5M336.5 275.25h1.5M348.5 275.25h1.5M363.5 275.25h1.5M302 276.75h1.5M308 276.75h1.5M311 276.75h1.5M314 276.75h1.5M330.5 276.75h1.5M353 276.75h1.5M365 276.75h1.5M296 278.25h1.5M303.5 278.25h1.5M309.5 278.25h1.5M314 278.25h1.5M324.5 278.25h1.5M327.5 278.25h1.5M300.5 279.75h1.5M303.5 279.75h1.5M308 279.75h1.5M312.5 279.75h1.5M323 279.75h1.5M359 279.75h1.5M314 281.25h1.5M327.5 281.25h1.5M308 282.75h1.5M341 282.75h1.5M303.5 284.25h1.5M306.5 284.25h1.5M324.5 284.25h1.5M332 284.25h1.5M345.5 284.25h1.5M351.5 284.25h1.5M356 284.25h1.5M363.5 284.25h1.5M294.5 285.75h1.5M333.5 285.75h1.5M342.5 285.75h1.5M357.5 285.75h1.5M297.5 287.25h1.5M339.5 287.25h3M294.5 288.75h1.5M335 288.75h3M296 290.25h1.5M327.5 290.25h1.5M359 290.25h1.5M366.5 290.25h1.5M291.5 291.75h1.5M336.5 291.75h3M342.5 291.75h1.5M348.5 291.75h1.5M293 293.25h1.5M296 293.25h1.5M297.5 294.75h1.5M330.5 294.75h1.5M335 294.75h1.5M342.5 294.75h1.5M332 296.25h1.5M336.5 296.25h1.5M363.5 296.25h1.5M327.5 297.75h1.5M338 297.75h1.5M353 297.75h1.5M329 299.25h1.5M336.5 299.25h1.5M290 300.75h1.5M356 300.75h1.5M327.5 302.25h1.5M338 302.25h1.5M348.5 302.25h1.5M297.5 303.75h1.5M329 303.75h1.5M321.5 305.25h1.5M339.5 305.25h1.5M342.5 305.25h1.5M330.5 306.75h1.5M360.5 306.75h1.5M335 308.25h1.5M347 308.25h1.5M357.5 308.25h1.5M339.5 309.75h1.5M342.5 309.75h1.5M330.5 311.25h1.5M342.5 311.25h1.5M350 311.25h1.5M360.5 311.25h1.5M365 311.25h1.5M321.5 312.75h1.5M324.5 312.75h1.5M330.5 312.75h1.5M333.5 312.75h1.5M348.5 312.75h1.5M335 314.25h1.5M339.5 314.25h1.5M345.5 314.25h1.5M314 315.75h1.5M321.5 315.75h3M348.5 315.75h1.5M320 317.25h1.5M353 317.25h1.5M365 317.25h1.5M312.5 318.75h1.5M315.5 318.75h1.5M350 318.75h1.5M366.5 318.75h1.5M308 320.25h1.5M320 320.25h1.5M305 321.75h1.5M311 321.75h4.5M341 321.75h1.5M317 323.25h1.5M351.5 323.25h1.5M300.5 324.75h1.5M303.5 324.75h1.5M333.5 324.75h1.5M365 324.75h1.5M345.5 326.25h1.5M338 327.75h1.5M354.5 336.75h1.5M297.5 339.75h1.5M350 339.75h1.5M360.5 339.75h1.5" stroke="#122b55" stroke-width="1.85" fill="none"/>
<path d="M315.5 267.75h3M317 269.25h1.5M308 273.75h1.5M318.5 273.75h1.5M327.5 273.75h1.5M359 273.75h1.5M308 275.25h1.5M317 275.25h3M312.5 276.75h1.5M318.5 276.75h4.5M336.5 276.75h1.5M315.5 278.25h3M320 278.25h1.5M329 278.25h1.5M335 278.25h1.5M338 278.25h1.5M311 279.75h1.5M318.5 279.75h3M329 279.75h3M333.5 279.75h1.5M336.5 279.75h3M293 281.25h1.5M302 281.25h1.5M311 281.25h1.5M317 281.25h3M321.5 281.25h1.5M324.5 281.25h1.5M293 282.75h1.5M311 282.75h1.5M315.5 282.75h6M323 282.75h3M329 282.75h1.5M309.5 284.25h7.5M320 284.25h3M305 285.75h3M309.5 285.75h7.5M318.5 285.75h4.5M303.5 287.25h15M321.5 287.25h3M285.5 288.75h3M303.5 288.75h18M323 288.75h1.5M326 288.75h1.5M284 290.25h4.5M303.5 290.25h13.5M318.5 290.25h9M285.5 291.75h4.5M299 291.75h21M321.5 291.75h1.5M284 293.25h6M299 293.25h1.5M302 293.25h1.5M305 293.25h10.5M317 293.25h7.5M284 294.75h6M294.5 294.75h1.5M300.5 294.75h1.5M303.5 294.75h10.5M315.5 294.75h4.5M321.5 294.75h3M326 294.75h4.5M284 296.25h6M293 296.25h4.5M299 296.25h21M323 296.25h1.5M284 297.75h7.5M297.5 297.75h24M323 297.75h1.5M284 299.25h6M296 299.25h1.5M300.5 299.25h18M320 299.25h1.5M284 300.75h6M294.5 300.75h6M302 300.75h15M320 300.75h1.5M284 302.25h6M294.5 302.25h1.5M299 302.25h1.5M302 302.25h13.5M318.5 302.25h4.5M284 303.75h7.5M294.5 303.75h1.5M300.5 303.75h19.5M284 305.25h6M293 305.25h4.5M299 305.25h12M314 305.25h4.5M329 305.25h1.5M284 306.75h7.5M293 306.75h1.5M296 306.75h15M312.5 306.75h7.5M324.5 306.75h6M359 306.75h1.5M284 308.25h7.5M297.5 308.25h10.5M309.5 308.25h1.5M314 308.25h1.5M317 308.25h1.5M323 308.25h1.5M284 309.75h7.5M294.5 309.75h4.5M300.5 309.75h7.5M309.5 309.75h3M315.5 309.75h3M320 309.75h1.5M284 311.25h6M294.5 311.25h13.5M309.5 311.25h3M314 311.25h3M318.5 311.25h4.5M284 312.75h10.5M296 312.75h18M315.5 312.75h3M284 314.25h10.5M296 314.25h1.5M300.5 314.25h10.5M312.5 314.25h1.5M315.5 314.25h6M284 315.75h7.5M293 315.75h6M300.5 315.75h3M306.5 315.75h3M318.5 315.75h1.5M284 317.25h9M294.5 317.25h9M308 317.25h3M314 317.25h3M284 318.75h10.5M297.5 318.75h4.5M309.5 318.75h1.5M284 320.25h6M293 320.25h3M299 320.25h3M284 321.75h9M294.5 321.75h3M299 321.75h4.5M284 323.25h10.5M309.5 323.25h1.5M318.5 323.25h1.5M284 324.75h6M306.5 324.75h3M312.5 324.75h3M318.5 324.75h3M284 326.25h7.5M293 326.25h4.5M299 326.25h22.5M323 326.25h7.5M333.5 326.25h1.5M339.5 326.25h3M348.5 326.25h1.5M359 326.25h1.5M363.5 326.25h3M284 327.75h6M294.5 327.75h37.5M333.5 327.75h3M341 327.75h4.5M347 327.75h7.5M359 327.75h3M363.5 327.75h4.5M284 329.25h54M339.5 329.25h28.5M284 330.75h84M284 332.25h84M284 333.75h84M284 335.25h84M284 336.75h9M294.5 336.75h49.5M345.5 336.75h7.5M356 336.75h4.5M365 336.75h3M284 338.25h9M296 338.25h1.5M299 338.25h4.5M305 338.25h21M329 338.25h4.5M335 338.25h4.5M345.5 338.25h6M356 338.25h3M363.5 338.25h3M284 339.75h6M308 339.75h4.5M314 339.75h7.5M329 339.75h6M338 339.75h1.5M347 339.75h1.5M285.5 341.25h4.5M306.5 341.25h1.5M323 341.25h1.5M341 341.25h4.5M362 341.25h1.5" stroke="#1f5a9e" stroke-width="1.56" fill="none"/>
<path d="M314 285.75h1.5M314 290.25h1.5M308 296.25h4.5M285.5 297.75h1.5M309.5 297.75h3M285.5 299.25h1.5M309.5 299.25h3M308 300.75h4.5M306.5 302.25h3M284 303.75h3M285.5 305.25h1.5M302 305.25h3M285.5 306.75h1.5M285.5 308.25h4.5M285.5 309.75h3M284 311.25h4.5M284 312.75h4.5M284 314.25h6M284 315.75h6M284 317.25h6M284 318.75h6M284 320.25h4.5M284 321.75h4.5M284 323.25h4.5M284 324.75h4.5M285.5 326.25h3M308 326.25h1.5M285.5 327.75h3M300.5 327.75h18M284 329.25h6M293 329.25h34.5M329 329.25h3M284 330.75h6M291.5 330.75h48M344 330.75h6M351.5 330.75h16.5M284 332.25h84M284 333.75h66M353 333.75h6M363.5 333.75h4.5M284 335.25h4.5M296 335.25h31.5M333.5 335.25h3M366.5 335.25h1.5M284 336.75h4.5M300.5 336.75h3M305 336.75h15M323 336.75h1.5M285.5 338.25h3M315.5 338.25h1.5M285.5 339.75h3M287 341.25h1.5" stroke="#238f6a" stroke-width="1.56" fill="none"/>
<path d="M287 309.75h1.5M285.5 311.25h3M284 312.75h4.5M284 314.25h4.5M284 315.75h4.5M285.5 317.25h3M284 318.75h4.5M284 320.25h4.5M285.5 321.75h1.5M285.5 323.25h1.5M285.5 324.75h1.5M309.5 327.75h1.5M296 329.25h24M287 330.75h3M293 330.75h39M287 332.25h3M291.5 332.25h45M338 332.25h1.5M344 332.25h13.5M363.5 332.25h1.5M366.5 332.25h1.5M285.5 333.75h1.5M294.5 333.75h36M333.5 333.75h1.5M345.5 333.75h3M366.5 333.75h1.5M285.5 335.25h1.5M300.5 335.25h21M315.5 336.75h1.5" stroke="#49ad3c" stroke-width="1.56" fill="none"/>
<path d="M285.5 312.75h1.5M285.5 315.75h1.5M285.5 318.75h1.5M285.5 320.25h1.5M302 329.25h1.5M305 329.25h10.5M294.5 330.75h28.5M293 332.25h36M296 333.75h28.5" stroke="#c9d62e" stroke-width="1.56" fill="none"/>
<path d="M306.5 329.25h4.5M294.5 330.75h25.5M294.5 332.25h33M297.5 333.75h22.5M321.5 333.75h1.5" stroke="#f08a1c" stroke-width="1.56" fill="none"/>
<path d="M306.5 329.25h3M296 330.75h24M294.5 332.25h33M297.5 333.75h21" stroke="#ee2244" stroke-width="1.56" fill="none"/>
<path d="M439 268.75h1.5M398.5 270.25h1.5M403 270.25h1.5M407.5 270.25h1.5M415 270.25h1.5M452.5 270.25h1.5M400 271.75h1.5M409 271.75h1.5M416.5 271.75h1.5M430 271.75h1.5M422.5 273.25h1.5M437.5 273.25h1.5M407.5 274.75h1.5M434.5 274.75h1.5M448 274.75h1.5M416.5 276.25h1.5M428.5 276.25h1.5M434.5 276.25h1.5M460 276.25h1.5M398.5 277.75h1.5M415 277.75h1.5M421 277.75h1.5M410.5 279.25h1.5M415 279.25h1.5M419.5 279.25h1.5M422.5 279.25h1.5M430 279.25h1.5M452.5 279.25h1.5M394 280.75h1.5M418 280.75h1.5M430 280.75h1.5M415 282.25h1.5M433 282.25h1.5M452.5 282.25h1.5M464.5 282.25h1.5M406 283.75h1.5M413.5 283.75h1.5M416.5 283.75h1.5M439 283.75h1.5M446.5 283.75h1.5M391 285.25h1.5M395.5 285.25h1.5M398.5 285.25h1.5M409 285.25h1.5M425.5 285.25h1.5M403 286.75h1.5M416.5 286.75h1.5M427 286.75h1.5M431.5 286.75h1.5M436 286.75h1.5M452.5 286.75h1.5M391 288.25h1.5M394 288.25h1.5M404.5 288.25h1.5M427 288.25h1.5M443.5 289.75h1.5M446.5 291.25h1.5M449.5 291.25h1.5M443.5 292.75h1.5M455.5 292.75h1.5M458.5 292.75h1.5M397 294.25h1.5M430 294.25h1.5M440.5 294.25h1.5M392.5 295.75h1.5M424 295.75h1.5M431.5 295.75h1.5M434.5 295.75h1.5M451 295.75h1.5M457 295.75h1.5M427 297.25h1.5M436 297.25h1.5M439 297.25h1.5M443.5 297.25h1.5M457 297.25h1.5M464.5 297.25h1.5M430 298.75h1.5M437.5 298.75h1.5M428.5 300.25h1.5M434.5 300.25h1.5M445 300.25h1.5M425.5 301.75h1.5M440.5 301.75h1.5M443.5 301.75h1.5M397 303.25h1.5M427 303.25h1.5M455.5 304.75h3M425.5 307.75h1.5M448 307.75h1.5M455.5 307.75h1.5M460 307.75h1.5M424 309.25h1.5M430 309.25h1.5M463 309.25h1.5M428.5 310.75h1.5M446.5 310.75h1.5M452.5 310.75h1.5M464.5 310.75h1.5M455.5 312.25h1.5M421 313.75h1.5M425.5 313.75h3M433 313.75h1.5M437.5 313.75h1.5M452.5 313.75h1.5M460 313.75h1.5M464.5 313.75h1.5M421 315.25h1.5M440.5 315.25h1.5M454 315.25h1.5M430 316.75h1.5M440.5 316.75h1.5M448 316.75h1.5M461.5 316.75h1.5M407.5 318.25h1.5M406 319.75h1.5M422.5 319.75h1.5M430 319.75h1.5M434.5 319.75h1.5M448 319.75h1.5M410.5 321.25h1.5M415 321.25h1.5M409 322.75h1.5M419.5 322.75h1.5M443.5 322.75h1.5M418 324.25h1.5M437.5 324.25h1.5M412 325.75h1.5M421 325.75h1.5M427 325.75h1.5M437.5 325.75h3M446.5 325.75h1.5M458.5 325.75h1.5M434.5 339.25h1.5M442 339.25h1.5M449.5 339.25h1.5M458.5 339.25h1.5M394 340.75h1.5M409 340.75h1.5M419.5 340.75h1.5M427 340.75h1.5M431.5 340.75h3M439 340.75h1.5M463 342.25h1.5" stroke="#122b55" stroke-width="1.85" fill="none"/>
<path d="M458.5 276.25h1.5M452.5 280.75h1.5M403 282.25h3M424 282.25h6M403 283.75h1.5M419.5 283.75h1.5M425.5 283.75h3M410.5 285.25h3M418 285.25h4.5M443.5 285.25h1.5M406 286.75h1.5M413.5 286.75h1.5M419.5 286.75h3M433 286.75h3M400 288.25h3M407.5 288.25h7.5M416.5 288.25h1.5M419.5 288.25h3M442 288.25h1.5M385 289.75h3M394 289.75h1.5M400 289.75h4.5M409 289.75h4.5M415 289.75h6M424 289.75h1.5M431.5 289.75h3M439 289.75h1.5M442 289.75h1.5M386.5 291.25h3M398.5 291.25h1.5M403 291.25h10.5M415 291.25h7.5M424 291.25h6M434.5 291.25h1.5M439 291.25h3M448 291.25h1.5M382 292.75h7.5M398.5 292.75h1.5M404.5 292.75h15M421 292.75h4.5M431.5 292.75h3M442 292.75h1.5M383.5 294.25h4.5M403 294.25h21M425.5 294.25h3M382 295.75h6M389.5 295.75h1.5M395.5 295.75h1.5M398.5 295.75h3M403 295.75h16.5M421 295.75h1.5M427 295.75h1.5M382 297.25h9M392.5 297.25h6M401.5 297.25h22.5M382 298.75h7.5M392.5 298.75h7.5M401.5 298.75h24M382 300.25h9M392.5 300.25h1.5M395.5 300.25h24M421 300.25h4.5M382 301.75h7.5M395.5 301.75h1.5M398.5 301.75h22.5M422.5 301.75h1.5M436 301.75h1.5M382 303.25h7.5M392.5 303.25h4.5M400 303.25h21M422.5 303.25h3M436 303.25h3M382 304.75h6M391 304.75h6M398.5 304.75h16.5M418 304.75h7.5M431.5 304.75h3M440.5 304.75h1.5M382 306.25h6M391 306.25h7.5M400 306.25h16.5M418 306.25h7.5M382 307.75h7.5M391 307.75h30M382 309.25h31.5M415 309.25h3M419.5 309.25h3M382 310.75h40.5M382 312.25h33M416.5 312.25h1.5M382 313.75h28.5M412 313.75h1.5M416.5 313.75h3M439 313.75h1.5M382 315.25h30M415 315.25h3M455.5 315.25h1.5M382 316.75h19.5M403 316.75h3M412 316.75h3M455.5 316.75h3M382 318.25h19.5M403 318.25h3M410.5 318.25h6M457 318.25h1.5M382 319.75h18M403 319.75h1.5M382 321.25h18M401.5 321.25h1.5M382 322.75h10.5M395.5 322.75h3M382 324.25h7.5M394 324.25h1.5M397 324.25h1.5M403 324.25h4.5M433 324.25h1.5M382 325.75h7.5M392.5 325.75h7.5M401.5 325.75h6M409 325.75h3M448 325.75h1.5M452.5 325.75h1.5M455.5 325.75h1.5M460 325.75h3M464.5 325.75h1.5M382 327.25h25.5M410.5 327.25h6M418 327.25h1.5M421 327.25h3M425.5 327.25h1.5M431.5 327.25h3M442 327.25h1.5M448 327.25h1.5M452.5 327.25h1.5M455.5 327.25h1.5M461.5 327.25h1.5M464.5 327.25h3M382 328.75h48M431.5 328.75h6M439 328.75h1.5M442 328.75h3M446.5 328.75h1.5M449.5 328.75h4.5M460 328.75h1.5M463 328.75h4.5M382 330.25h69M454 330.25h1.5M457 330.25h6M464.5 330.25h1.5M382 331.75h85.5M382 333.25h70.5M454 333.25h12M382 334.75h85.5M382 336.25h58.5M442 336.25h7.5M452.5 336.25h10.5M464.5 336.25h3M382 337.75h37.5M421 337.75h3M425.5 337.75h6M433 337.75h1.5M436 337.75h6M443.5 337.75h6M452.5 337.75h3M457 337.75h1.5M382 339.25h7.5M391 339.25h3M395.5 339.25h4.5M401.5 339.25h4.5M410.5 339.25h7.5M419.5 339.25h1.5M422.5 339.25h9M436 339.25h1.5M466 339.25h1.5M382 340.75h7.5M398.5 340.75h1.5M404.5 340.75h1.5M410.5 340.75h1.5M415 340.75h3M422.5 340.75h3M398.5 342.25h1.5" stroke="#1f5a9e" stroke-width="1.56" fill="none"/>
<path d="M410.5 292.75h1.5M413.5 292.75h1.5M412 294.25h3M412 295.75h3M383.5 297.25h3M412 297.25h3M418 297.25h1.5M386.5 298.75h1.5M404.5 298.75h6M385 300.25h1.5M406 300.25h7.5M385 301.75h1.5M409 301.75h1.5M415 301.75h3M383.5 303.25h3M404.5 303.25h1.5M409 303.25h1.5M383.5 304.75h1.5M401.5 304.75h1.5M404.5 304.75h1.5M383.5 306.25h3M401.5 306.25h1.5M406 306.25h1.5M385 307.75h3M394 307.75h3M401.5 307.75h4.5M383.5 309.25h4.5M392.5 309.25h6M403 309.25h3M382 310.75h6M391 310.75h9M404.5 310.75h4.5M382 312.25h7.5M391 312.25h9M382 313.75h16.5M382 315.25h18M382 316.75h7.5M391 316.75h7.5M382 318.25h7.5M391 318.25h6M382 319.75h7.5M392.5 319.75h4.5M382 321.25h7.5M395.5 321.25h1.5M382 322.75h7.5M382 324.25h6M382 325.75h6M382 327.25h7.5M395.5 327.25h1.5M382 328.75h34.5M421 328.75h3M382 330.25h46.5M431.5 330.25h6M382 331.75h57M382 333.25h55.5M382 334.75h54M382 336.25h6M391 336.25h1.5M394 336.25h22.5M421 336.25h3M382 337.75h4.5M391 337.75h1.5M383.5 339.25h3M385 340.75h1.5" stroke="#238f6a" stroke-width="1.56" fill="none"/>
<path d="M385 309.25h1.5M383.5 310.75h4.5M392.5 310.75h1.5M383.5 312.25h4.5M392.5 312.25h4.5M383.5 313.75h6M392.5 313.75h4.5M383.5 315.25h6M391 315.25h6M382 316.75h6M392.5 316.75h4.5M382 318.25h7.5M394 318.25h1.5M382 319.75h6M382 321.25h6M382 322.75h6M383.5 324.25h4.5M383.5 325.75h4.5M382 327.25h6M382 328.75h6M395.5 328.75h1.5M382 330.25h28.5M413.5 330.25h3M418 330.25h3M434.5 330.25h1.5M382 331.75h39M422.5 331.75h15M382 333.25h6M389.5 333.25h31.5M422.5 333.25h13.5M382 334.75h6M392.5 334.75h27M422.5 334.75h1.5M428.5 334.75h1.5M383.5 336.25h3M395.5 336.25h7.5M404.5 336.25h3M383.5 337.75h3" stroke="#49ad3c" stroke-width="1.56" fill="none"/>
<path d="M383.5 312.25h4.5M383.5 313.75h4.5M392.5 313.75h3M383.5 315.25h4.5M394 315.25h1.5M383.5 316.75h4.5M383.5 318.25h4.5M382 319.75h6M382 321.25h6M383.5 322.75h4.5M383.5 324.25h4.5M383.5 325.75h4.5M383.5 327.25h3M383.5 330.25h4.5M392.5 330.25h10.5M382 331.75h6M391 331.75h19.5M413.5 331.75h6M382 333.25h4.5M391 333.25h28.5M383.5 334.75h3M394 334.75h13.5M413.5 334.75h3" stroke="#c9d62e" stroke-width="1.56" fill="none"/>
<path d="M383.5 312.25h4.5M383.5 313.75h4.5M383.5 315.25h4.5M383.5 316.75h4.5M383.5 318.25h4.5M383.5 319.75h4.5M383.5 321.25h4.5M383.5 322.75h4.5M383.5 324.25h3M383.5 325.75h3M385 327.25h1.5M383.5 330.25h3M392.5 330.25h9M382 331.75h6M392.5 331.75h18M415 331.75h1.5M382 333.25h4.5M392.5 333.25h9M403 333.25h6M410.5 333.25h1.5M413.5 333.25h4.5M383.5 334.75h3M395.5 334.75h3M400 334.75h1.5M404.5 334.75h1.5" stroke="#f08a1c" stroke-width="1.56" fill="none"/>
<path d="M385 312.25h3M383.5 313.75h4.5M383.5 315.25h4.5M383.5 316.75h4.5M383.5 318.25h4.5M383.5 319.75h4.5M383.5 321.25h4.5M383.5 322.75h4.5M383.5 324.25h3M385 325.75h1.5M394 330.25h6M383.5 331.75h3M392.5 331.75h9M407.5 331.75h1.5M382 333.25h4.5M392.5 333.25h9M404.5 333.25h3M413.5 333.25h3M383.5 334.75h1.5M395.5 334.75h1.5" stroke="#ee2244" stroke-width="1.56" fill="none"/></g>
<g filter="url(#txt)"><rect x="86.8" y="35.6" width="89.3" height="87.4" fill="none" stroke="#0d0d0d" stroke-width="1.1"/>
<line x1="95.4" y1="35.6" x2="95.4" y2="123" stroke="#0d0d0d" stroke-width="1.1"/>
<line x1="86.8" y1="103.8" x2="176.1" y2="103.8" stroke="#0d0d0d" stroke-width="1.0"/>
<line x1="86.8" y1="124.1" x2="176.1" y2="124.1" stroke="#222" stroke-width="1.3" stroke-dasharray="0.8 1.1"/>
<path d="M82.6 34.3l1.6 1.2l-0.6 1.6l1.4 1.4" fill="none" stroke="#1a1a1a" stroke-width="1.3"/>
<path d="M82.6 52.8l1.6 1.2l-0.6 1.6l1.4 1.4" fill="none" stroke="#1a1a1a" stroke-width="1.3"/>
<path d="M82.6 75.3l1.6 1.2l-0.6 1.6l1.4 1.4" fill="none" stroke="#1a1a1a" stroke-width="1.3"/>
<path d="M82.6 97.3l1.6 1.2l-0.6 1.6l1.4 1.4" fill="none" stroke="#1a1a1a" stroke-width="1.3"/>
<path d="M82.6 117.8l1.6 1.2l-0.6 1.6l1.4 1.4" fill="none" stroke="#1a1a1a" stroke-width="1.3"/>
<rect x="86.5" y="124.5" width="2.2" height="3.3" fill="#222"/>
<rect x="167.6" y="124.0" width="8" height="3.0" fill="#333"/>
<rect x="184.5" y="35.6" width="89.5" height="87.4" fill="none" stroke="#0d0d0d" stroke-width="1.1"/>
<line x1="193.3" y1="35.6" x2="193.3" y2="123" stroke="#0d0d0d" stroke-width="1.1"/>
<line x1="184.5" y1="103.8" x2="274" y2="103.8" stroke="#0d0d0d" stroke-width="1.0"/>
<line x1="184.5" y1="124.1" x2="274" y2="124.1" stroke="#222" stroke-width="1.3" stroke-dasharray="0.8 1.1"/>
<path d="M180.3 34.3l1.6 1.2l-0.6 1.6l1.4 1.4" fill="none" stroke="#1a1a1a" stroke-width="1.3"/>
<path d="M180.3 52.8l1.6 1.2l-0.6 1.6l1.4 1.4" fill="none" stroke="#1a1a1a" stroke-width="1.3"/>
<path d="M180.3 75.3l1.6 1.2l-0.6 1.6l1.4 1.4" fill="none" stroke="#1a1a1a" stroke-width="1.3"/>
<path d="M180.3 97.3l1.6 1.2l-0.6 1.6l1.4 1.4" fill="none" stroke="#1a1a1a" stroke-width="1.3"/>
<path d="M180.3 117.8l1.6 1.2l-0.6 1.6l1.4 1.4" fill="none" stroke="#1a1a1a" stroke-width="1.3"/>
<rect x="184.2" y="124.5" width="2.2" height="3.3" fill="#222"/>
<rect x="265.5" y="124.0" width="8" height="3.0" fill="#333"/>
<rect x="281.3" y="35.6" width="89.69999999999999" height="87.4" fill="none" stroke="#0d0d0d" stroke-width="1.1"/>
<line x1="290.3" y1="35.6" x2="290.3" y2="123" stroke="#0d0d0d" stroke-width="1.1"/>
<line x1="281.3" y1="104.0" x2="371" y2="104.0" stroke="#0d0d0d" stroke-width="1.0"/>
<line x1="281.3" y1="107.0" x2="371" y2="107.0" stroke="#0d0d0d" stroke-width="1.0"/>
<line x1="281.3" y1="124.1" x2="371" y2="124.1" stroke="#222" stroke-width="1.3" stroke-dasharray="0.8 1.1"/>
<path d="M277.1 34.3l1.6 1.2l-0.6 1.6l1.4 1.4" fill="none" stroke="#1a1a1a" stroke-width="1.3"/>
<path d="M277.1 52.8l1.6 1.2l-0.6 1.6l1.4 1.4" fill="none" stroke="#1a1a1a" stroke-width="1.3"/>
<path d="M277.1 75.3l1.6 1.2l-0.6 1.6l1.4 1.4" fill="none" stroke="#1a1a1a" stroke-width="1.3"/>
<path d="M277.1 97.3l1.6 1.2l-0.6 1.6l1.4 1.4" fill="none" stroke="#1a1a1a" stroke-width="1.3"/>
<path d="M277.1 117.8l1.6 1.2l-0.6 1.6l1.4 1.4" fill="none" stroke="#1a1a1a" stroke-width="1.3"/>
<rect x="281.0" y="124.5" width="2.2" height="3.3" fill="#222"/>
<rect x="362.5" y="124.0" width="8" height="3.0" fill="#333"/>
<rect x="380" y="35.6" width="88.5" height="87.4" fill="none" stroke="#0d0d0d" stroke-width="1.1"/>
<line x1="389.3" y1="35.6" x2="389.3" y2="123" stroke="#0d0d0d" stroke-width="1.1"/>
<line x1="380" y1="104.0" x2="468.5" y2="104.0" stroke="#0d0d0d" stroke-width="1.0"/>
<line x1="380" y1="107.0" x2="468.5" y2="107.0" stroke="#0d0d0d" stroke-width="1.0"/>
<line x1="380" y1="124.1" x2="468.5" y2="124.1" stroke="#222" stroke-width="1.3" stroke-dasharray="0.8 1.1"/>
<path d="M375.8 34.3l1.6 1.2l-0.6 1.6l1.4 1.4" fill="none" stroke="#1a1a1a" stroke-width="1.3"/>
<path d="M375.8 52.8l1.6 1.2l-0.6 1.6l1.4 1.4" fill="none" stroke="#1a1a1a" stroke-width="1.3"/>
<path d="M375.8 75.3l1.6 1.2l-0.6 1.6l1.4 1.4" fill="none" stroke="#1a1a1a" stroke-width="1.3"/>
<path d="M375.8 97.3l1.6 1.2l-0.6 1.6l1.4 1.4" fill="none" stroke="#1a1a1a" stroke-width="1.3"/>
<path d="M375.8 117.8l1.6 1.2l-0.6 1.6l1.4 1.4" fill="none" stroke="#1a1a1a" stroke-width="1.3"/>
<rect x="379.7" y="124.5" width="2.2" height="3.3" fill="#222"/>
<rect x="460.0" y="124.0" width="8" height="3.0" fill="#333"/>
<rect x="89" y="255.4" width="88" height="87.6" fill="none" stroke="#0d0d0d" stroke-width="1.1"/>
<line x1="97.7" y1="255.4" x2="97.7" y2="343" stroke="#0d0d0d" stroke-width="1.1"/>
<line x1="89" y1="325.3" x2="177" y2="325.3" stroke="#0d0d0d" stroke-width="1.0"/>
<line x1="89" y1="344.1" x2="177" y2="344.1" stroke="#222" stroke-width="1.3" stroke-dasharray="0.8 1.1"/>
<path d="M84.8 253.8l1.6 1.2l-0.6 1.6l1.4 1.4" fill="none" stroke="#1a1a1a" stroke-width="1.3"/>
<path d="M84.8 274.3l1.6 1.2l-0.6 1.6l1.4 1.4" fill="none" stroke="#1a1a1a" stroke-width="1.3"/>
<path d="M84.8 295.8l1.6 1.2l-0.6 1.6l1.4 1.4" fill="none" stroke="#1a1a1a" stroke-width="1.3"/>
<path d="M84.8 317.8l1.6 1.2l-0.6 1.6l1.4 1.4" fill="none" stroke="#1a1a1a" stroke-width="1.3"/>
<path d="M84.8 338.8l1.6 1.2l-0.6 1.6l1.4 1.4" fill="none" stroke="#1a1a1a" stroke-width="1.3"/>
<rect x="88.7" y="344.5" width="2.2" height="3.3" fill="#222"/>
<rect x="168.5" y="344.0" width="8" height="3.0" fill="#333"/>
<rect x="187" y="256" width="87.60000000000002" height="87" fill="none" stroke="#0d0d0d" stroke-width="1.1"/>
<line x1="195.5" y1="256" x2="195.5" y2="343" stroke="#0d0d0d" stroke-width="1.1"/>
<line x1="187" y1="324.8" x2="274.6" y2="324.8" stroke="#0d0d0d" stroke-width="1.0"/>
<line x1="187" y1="344.1" x2="274.6" y2="344.1" stroke="#222" stroke-width="1.3" stroke-dasharray="0.8 1.1"/>
<path d="M182.8 253.8l1.6 1.2l-0.6 1.6l1.4 1.4" fill="none" stroke="#1a1a1a" stroke-width="1.3"/>
<path d="M182.8 274.3l1.6 1.2l-0.6 1.6l1.4 1.4" fill="none" stroke="#1a1a1a" stroke-width="1.3"/>
<path d="M182.8 295.8l1.6 1.2l-0.6 1.6l1.4 1.4" fill="none" stroke="#1a1a1a" stroke-width="1.3"/>
<path d="M182.8 317.8l1.6 1.2l-0.6 1.6l1.4 1.4" fill="none" stroke="#1a1a1a" stroke-width="1.3"/>
<path d="M182.8 338.8l1.6 1.2l-0.6 1.6l1.4 1.4" fill="none" stroke="#1a1a1a" stroke-width="1.3"/>
<rect x="186.7" y="344.5" width="2.2" height="3.3" fill="#222"/>
<rect x="266.1" y="344.0" width="8" height="3.0" fill="#333"/>
<rect x="282.4" y="256" width="87.0" height="87" fill="none" stroke="#0d0d0d" stroke-width="1.1"/>
<line x1="291.3" y1="256" x2="291.3" y2="343" stroke="#0d0d0d" stroke-width="1.1"/>
<line x1="282.4" y1="323.5" x2="369.4" y2="323.5" stroke="#0d0d0d" stroke-width="1.0"/>
<line x1="282.4" y1="344.1" x2="369.4" y2="344.1" stroke="#222" stroke-width="1.3" stroke-dasharray="0.8 1.1"/>
<path d="M278.2 253.8l1.6 1.2l-0.6 1.6l1.4 1.4" fill="none" stroke="#1a1a1a" stroke-width="1.3"/>
<path d="M278.2 274.3l1.6 1.2l-0.6 1.6l1.4 1.4" fill="none" stroke="#1a1a1a" stroke-width="1.3"/>
<path d="M278.2 295.8l1.6 1.2l-0.6 1.6l1.4 1.4" fill="none" stroke="#1a1a1a" stroke-width="1.3"/>
<path d="M278.2 317.8l1.6 1.2l-0.6 1.6l1.4 1.4" fill="none" stroke="#1a1a1a" stroke-width="1.3"/>
<path d="M278.2 338.8l1.6 1.2l-0.6 1.6l1.4 1.4" fill="none" stroke="#1a1a1a" stroke-width="1.3"/>
<rect x="282.09999999999997" y="344.5" width="2.2" height="3.3" fill="#222"/>
<rect x="360.9" y="344.0" width="8" height="3.0" fill="#333"/>
<rect x="380.8" y="257" width="87.5" height="86" fill="none" stroke="#0d0d0d" stroke-width="1.1"/>
<line x1="388.5" y1="257" x2="388.5" y2="343" stroke="#0d0d0d" stroke-width="1.1"/>
<line x1="380.8" y1="324.5" x2="468.3" y2="324.5" stroke="#0d0d0d" stroke-width="1.0"/>
<line x1="380.8" y1="344.1" x2="468.3" y2="344.1" stroke="#222" stroke-width="1.3" stroke-dasharray="0.8 1.1"/>
<path d="M376.6 253.8l1.6 1.2l-0.6 1.6l1.4 1.4" fill="none" stroke="#1a1a1a" stroke-width="1.3"/>
<path d="M376.6 274.3l1.6 1.2l-0.6 1.6l1.4 1.4" fill="none" stroke="#1a1a1a" stroke-width="1.3"/>
<path d="M376.6 295.8l1.6 1.2l-0.6 1.6l1.4 1.4" fill="none" stroke="#1a1a1a" stroke-width="1.3"/>
<path d="M376.6 317.8l1.6 1.2l-0.6 1.6l1.4 1.4" fill="none" stroke="#1a1a1a" stroke-width="1.3"/>
<path d="M376.6 338.8l1.6 1.2l-0.6 1.6l1.4 1.4" fill="none" stroke="#1a1a1a" stroke-width="1.3"/>
<rect x="380.5" y="344.5" width="2.2" height="3.3" fill="#222"/>
<rect x="459.8" y="344.0" width="8" height="3.0" fill="#333"/></g>
</svg></body></html>
